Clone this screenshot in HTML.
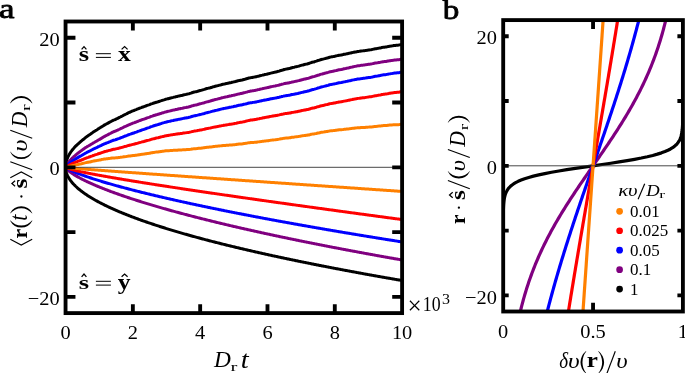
<!DOCTYPE html>
<html><head><meta charset="utf-8"><title>figure</title>
<style>
html,body{margin:0;padding:0;background:#fff;}
body{width:685px;height:373px;overflow:hidden;font-family:"Liberation Serif",serif;}
svg{display:block;will-change:transform;}
</style></head><body>
<svg width="685" height="373" viewBox="0 0 685 373">
<defs><clipPath id="cl"><rect x="65.55" y="21.50" width="336.55" height="291.60"/></clipPath><clipPath id="cr"><rect x="503.20" y="20.10" width="179.70" height="291.40"/></clipPath></defs>
<rect width="685" height="373" fill="#fff"/>
<g clip-path="url(#cl)" fill="none" stroke-width="3.0" stroke-linejoin="round" stroke-linecap="round">
<polyline points="65.55,167.30 65.76,164.24 65.97,162.98 66.18,162.00 66.39,161.19 66.60,160.46 66.81,159.81 67.02,159.21 67.23,158.65 67.44,158.13 67.65,157.64 67.86,157.16 68.07,156.71 68.28,156.27 68.49,155.85 68.71,155.45 68.92,155.06 69.13,154.70 69.34,154.32 69.55,153.97 69.76,153.63 69.97,153.29 70.18,152.95 70.39,152.63 70.60,152.32 70.81,152.01 71.02,151.70 71.23,151.40 71.44,151.11 71.65,150.83 71.86,150.53 72.07,150.23 72.28,149.97 72.49,149.71 72.70,149.45 72.91,149.21 73.12,148.96 73.33,148.72 73.54,148.45 73.75,148.20 73.96,147.98 74.81,147.04 75.65,146.16 76.49,145.34 77.33,144.54 78.17,143.76 79.01,143.02 79.85,142.28 80.69,141.61 81.54,140.91 82.38,140.19 83.22,139.49 84.06,138.78 84.90,138.09 85.74,137.39 86.58,136.79 87.43,136.13 88.27,135.58 89.11,135.00 89.95,134.48 90.79,133.85 91.63,133.22 92.47,132.66 93.32,132.03 94.16,131.50 95.00,130.96 95.84,130.42 96.68,129.94 97.52,129.40 98.36,128.79 99.20,128.33 100.05,127.78 100.89,127.29 101.73,126.70 102.57,126.19 103.41,125.66 104.25,125.15 105.09,124.65 105.94,124.25 106.78,123.72 107.62,123.33 108.46,122.86 109.30,122.37 110.14,121.97 110.98,121.51 111.83,121.01 112.67,120.57 113.51,120.18 114.35,119.89 115.19,119.51 116.03,119.11 116.87,118.71 117.72,118.32 118.56,117.87 119.40,117.46 120.24,117.03 121.08,116.56 121.92,116.18 122.76,115.76 123.60,115.23 124.45,114.76 125.29,114.41 126.13,114.01 126.97,113.57 127.81,113.11 128.65,112.71 129.49,112.35 130.34,112.00 131.18,111.60 132.02,111.22 132.86,110.90 133.70,110.57 134.54,110.25 135.38,109.88 136.23,109.59 137.07,109.23 137.91,108.86 138.75,108.52 139.59,108.24 140.43,107.85 141.27,107.56 142.12,107.22 142.96,106.94 143.80,106.72 144.64,106.39 145.48,106.07 146.32,105.76 147.16,105.44 148.00,105.17 148.85,104.91 149.69,104.62 150.53,104.22 151.37,103.88 152.21,103.62 153.05,103.30 153.89,103.04 154.74,102.77 155.58,102.44 156.42,102.19 157.26,102.00 158.10,101.77 158.94,101.49 159.78,101.21 160.63,100.88 161.47,100.66 162.31,100.36 163.15,100.08 163.99,99.84 164.83,99.56 165.67,99.30 166.51,99.12 167.36,98.84 168.20,98.68 169.04,98.46 169.88,98.23 170.72,97.98 171.56,97.80 172.40,97.59 173.25,97.38 174.09,97.13 174.93,96.97 175.77,96.77 176.61,96.60 177.45,96.47 178.29,96.14 179.14,95.95 179.98,95.84 180.82,95.57 181.66,95.43 182.50,95.21 183.34,94.96 184.18,94.79 185.03,94.60 185.87,94.42 186.71,94.20 187.55,94.07 188.39,93.90 189.23,93.68 190.07,93.39 190.91,93.11 191.76,92.78 192.60,92.50 193.44,92.27 194.28,92.03 195.12,91.89 195.96,91.69 196.80,91.50 197.65,91.24 198.49,90.96 199.33,90.74 200.17,90.52 201.01,90.36 201.85,90.12 202.69,89.87 203.54,89.61 204.38,89.41 205.22,89.08 206.06,88.79 206.90,88.57 207.74,88.37 208.58,88.16 209.43,87.93 210.27,87.71 211.11,87.46 211.95,87.21 212.79,86.93 213.63,86.67 214.47,86.47 215.31,86.25 216.16,86.07 217.00,85.90 217.84,85.60 218.68,85.43 219.52,85.13 220.36,84.96 221.20,84.76 222.05,84.52 222.89,84.32 223.73,84.11 224.57,83.93 225.41,83.77 226.25,83.59 227.09,83.43 227.94,83.16 228.78,82.99 229.62,82.72 230.46,82.67 231.30,82.49 232.14,82.28 232.98,82.12 233.82,81.89 234.67,81.67 235.51,81.51 236.35,81.31 237.19,80.98 238.03,80.79 238.87,80.59 239.71,80.44 240.56,80.25 241.40,80.15 242.24,79.98 243.08,79.68 243.92,79.45 244.76,79.25 245.60,79.02 246.45,78.76 247.29,78.56 248.13,78.28 248.97,78.06 249.81,77.88 250.65,77.63 251.49,77.58 252.34,77.44 253.18,77.26 254.02,77.13 254.86,76.97 255.70,76.83 256.54,76.69 257.38,76.37 258.22,76.17 259.07,75.99 259.91,75.75 260.75,75.58 261.59,75.35 262.43,75.15 263.27,74.89 264.11,74.78 264.96,74.55 265.80,74.36 266.64,74.22 267.48,73.98 268.32,73.83 269.16,73.55 270.00,73.33 270.85,73.10 271.69,72.90 272.53,72.65 273.37,72.54 274.21,72.34 275.05,72.17 275.89,71.95 276.74,71.75 277.58,71.51 278.42,71.34 279.26,71.04 280.10,70.71 280.94,70.50 281.78,70.29 282.62,70.06 283.47,69.78 284.31,69.47 285.15,69.32 285.99,69.14 286.83,68.98 287.67,68.82 288.51,68.68 289.36,68.44 290.20,68.28 291.04,67.98 291.88,67.71 292.72,67.54 293.56,67.38 294.40,67.19 295.25,66.90 296.09,66.73 296.93,66.58 297.77,66.36 298.61,66.11 299.45,65.92 300.29,65.62 301.13,65.38 301.98,65.13 302.82,64.94 303.66,64.71 304.50,64.48 305.34,64.35 306.18,64.10 307.02,63.94 307.87,63.70 308.71,63.52 309.55,63.16 310.39,62.88 311.23,62.58 312.07,62.28 312.91,62.09 313.76,61.95 314.60,61.71 315.44,61.40 316.28,61.13 317.12,60.83 317.96,60.52 318.80,60.34 319.65,60.07 320.49,59.71 321.33,59.48 322.17,59.34 323.01,59.10 323.85,58.88 324.69,58.62 325.53,58.43 326.38,58.19 327.22,58.07 328.06,57.80 328.90,57.50 329.74,57.21 330.58,57.08 331.42,56.85 332.27,56.81 333.11,56.60 333.95,56.41 334.79,56.27 335.63,56.06 336.47,55.87 337.31,55.64 338.16,55.45 339.00,55.26 339.84,55.19 340.68,55.07 341.52,54.92 342.36,54.73 343.20,54.56 344.05,54.31 344.89,54.19 345.73,54.03 346.57,53.84 347.41,53.68 348.25,53.48 349.09,53.34 349.93,53.10 350.78,52.96 351.62,52.74 352.46,52.58 353.30,52.34 354.14,52.25 354.98,52.06 355.82,51.92 356.67,51.75 357.51,51.53 358.35,51.44 359.19,51.36 360.03,51.26 360.87,51.09 361.71,51.04 362.56,50.88 363.40,50.80 364.24,50.71 365.08,50.58 365.92,50.41 366.76,50.30 367.60,50.17 368.45,50.02 369.29,49.88 370.13,49.86 370.97,49.73 371.81,49.58 372.65,49.38 373.49,49.12 374.33,48.94 375.18,48.79 376.02,48.70 376.86,48.55 377.70,48.37 378.54,48.17 379.38,48.07 380.22,47.92 381.07,47.74 381.91,47.51 382.75,47.36 383.59,47.25 384.43,47.16 385.27,47.04 386.11,46.95 386.96,46.78 387.80,46.59 388.64,46.43 389.48,46.25 390.32,46.14 391.16,46.00 392.00,45.89 392.84,45.75 393.69,45.56 394.53,45.44 395.37,45.41 396.21,45.29 397.05,45.20 397.89,45.15 398.73,45.06 399.58,44.87 400.42,44.65 401.26,44.55 402.10,44.36" stroke="#000000"/>
<polyline points="65.55,167.30 65.76,169.93 65.97,171.04 66.18,171.90 66.39,172.63 66.60,173.28 66.81,173.86 67.02,174.39 67.23,174.89 67.44,175.36 67.65,175.81 67.86,176.23 68.07,176.64 68.28,177.03 68.49,177.40 68.71,177.76 68.92,178.11 69.13,178.45 69.34,178.78 69.55,179.10 69.76,179.42 69.97,179.72 70.18,180.02 70.39,180.31 70.60,180.60 70.81,180.88 71.02,181.15 71.23,181.42 71.44,181.69 71.65,181.95 71.86,182.20 72.07,182.45 72.28,182.70 72.49,182.94 72.70,183.18 72.91,183.42 73.12,183.65 73.33,183.88 73.54,184.11 73.75,184.33 73.96,184.56 74.81,185.41 75.65,186.24 76.49,187.03 77.33,187.79 78.17,188.52 79.01,189.23 79.85,189.92 80.69,190.59 81.54,191.24 82.38,191.87 83.22,192.49 84.06,193.10 84.90,193.69 85.74,194.27 86.58,194.83 87.43,195.39 88.27,195.94 89.11,196.47 89.95,197.00 90.79,197.52 91.63,198.03 92.47,198.53 93.32,199.02 94.16,199.51 95.00,199.99 95.84,200.46 96.68,200.93 97.52,201.39 98.36,201.84 99.20,202.29 100.05,202.74 100.89,203.17 101.73,203.61 102.57,204.03 103.41,204.46 104.25,204.88 105.09,205.29 105.94,205.70 106.78,206.11 107.62,206.51 108.46,206.91 109.30,207.30 110.14,207.69 110.98,208.08 111.83,208.46 112.67,208.84 113.51,209.22 114.35,209.59 115.19,209.96 116.03,210.33 116.87,210.69 117.72,211.06 118.56,211.41 119.40,211.77 120.24,212.12 121.08,212.47 121.92,212.82 122.76,213.17 123.60,213.51 124.45,213.85 125.29,214.19 126.13,214.52 126.97,214.86 127.81,215.19 128.65,215.52 129.49,215.84 130.34,216.17 131.18,216.49 132.02,216.81 132.86,217.13 133.70,217.45 134.54,217.76 135.38,218.07 136.23,218.39 137.07,218.70 137.91,219.00 138.75,219.31 139.59,219.61 140.43,219.91 141.27,220.22 142.12,220.51 142.96,220.81 143.80,221.11 144.64,221.40 145.48,221.69 146.32,221.99 147.16,222.28 148.00,222.56 148.85,222.85 149.69,223.14 150.53,223.42 151.37,223.70 152.21,223.98 153.05,224.26 153.89,224.54 154.74,224.82 155.58,225.10 156.42,225.37 157.26,225.65 158.10,225.92 158.94,226.19 159.78,226.46 160.63,226.73 161.47,227.00 162.31,227.26 163.15,227.53 163.99,227.79 164.83,228.05 165.67,228.32 166.51,228.58 167.36,228.84 168.20,229.10 169.04,229.35 169.88,229.61 170.72,229.87 171.56,230.12 172.40,230.38 173.25,230.63 174.09,230.88 174.93,231.13 175.77,231.38 176.61,231.63 177.45,231.88 178.29,232.12 179.14,232.37 179.98,232.62 180.82,232.86 181.66,233.10 182.50,233.35 183.34,233.59 184.18,233.83 185.03,234.07 185.87,234.31 186.71,234.55 187.55,234.79 188.39,235.02 189.23,235.26 190.07,235.49 190.91,235.73 191.76,235.96 192.60,236.20 193.44,236.43 194.28,236.66 195.12,236.89 195.96,237.12 196.80,237.35 197.65,237.58 198.49,237.81 199.33,238.03 200.17,238.26 201.01,238.49 201.85,238.71 202.69,238.94 203.54,239.16 204.38,239.38 205.22,239.61 206.06,239.83 206.90,240.05 207.74,240.27 208.58,240.49 209.43,240.71 210.27,240.93 211.11,241.15 211.95,241.36 212.79,241.58 213.63,241.80 214.47,242.01 215.31,242.23 216.16,242.44 217.00,242.65 217.84,242.87 218.68,243.08 219.52,243.29 220.36,243.50 221.20,243.71 222.05,243.92 222.89,244.13 223.73,244.34 224.57,244.55 225.41,244.76 226.25,244.97 227.09,245.18 227.94,245.38 228.78,245.59 229.62,245.79 230.46,246.00 231.30,246.20 232.14,246.41 232.98,246.61 233.82,246.81 234.67,247.02 235.51,247.22 236.35,247.42 237.19,247.62 238.03,247.82 238.87,248.02 239.71,248.22 240.56,248.42 241.40,248.62 242.24,248.82 243.08,249.02 243.92,249.21 244.76,249.41 245.60,249.61 246.45,249.80 247.29,250.00 248.13,250.19 248.97,250.39 249.81,250.58 250.65,250.77 251.49,250.97 252.34,251.16 253.18,251.35 254.02,251.55 254.86,251.74 255.70,251.93 256.54,252.12 257.38,252.31 258.22,252.50 259.07,252.69 259.91,252.88 260.75,253.07 261.59,253.25 262.43,253.44 263.27,253.63 264.11,253.82 264.96,254.00 265.80,254.19 266.64,254.38 267.48,254.56 268.32,254.75 269.16,254.93 270.00,255.12 270.85,255.30 271.69,255.48 272.53,255.67 273.37,255.85 274.21,256.03 275.05,256.22 275.89,256.40 276.74,256.58 277.58,256.76 278.42,256.94 279.26,257.12 280.10,257.30 280.94,257.48 281.78,257.66 282.62,257.84 283.47,258.02 284.31,258.20 285.15,258.38 285.99,258.55 286.83,258.73 287.67,258.91 288.51,259.09 289.36,259.26 290.20,259.44 291.04,259.61 291.88,259.79 292.72,259.96 293.56,260.14 294.40,260.31 295.25,260.49 296.09,260.66 296.93,260.84 297.77,261.01 298.61,261.18 299.45,261.35 300.29,261.53 301.13,261.70 301.98,261.87 302.82,262.04 303.66,262.21 304.50,262.38 305.34,262.56 306.18,262.73 307.02,262.90 307.87,263.07 308.71,263.23 309.55,263.40 310.39,263.57 311.23,263.74 312.07,263.91 312.91,264.08 313.76,264.25 314.60,264.41 315.44,264.58 316.28,264.75 317.12,264.91 317.96,265.08 318.80,265.25 319.65,265.41 320.49,265.58 321.33,265.74 322.17,265.91 323.01,266.07 323.85,266.24 324.69,266.40 325.53,266.57 326.38,266.73 327.22,266.89 328.06,267.06 328.90,267.22 329.74,267.38 330.58,267.54 331.42,267.71 332.27,267.87 333.11,268.03 333.95,268.19 334.79,268.35 335.63,268.51 336.47,268.67 337.31,268.83 338.16,268.99 339.00,269.15 339.84,269.31 340.68,269.47 341.52,269.63 342.36,269.79 343.20,269.95 344.05,270.11 344.89,270.27 345.73,270.43 346.57,270.58 347.41,270.74 348.25,270.90 349.09,271.06 349.93,271.21 350.78,271.37 351.62,271.53 352.46,271.68 353.30,271.84 354.14,271.99 354.98,272.15 355.82,272.30 356.67,272.46 357.51,272.61 358.35,272.77 359.19,272.92 360.03,273.08 360.87,273.23 361.71,273.39 362.56,273.54 363.40,273.69 364.24,273.85 365.08,274.00 365.92,274.15 366.76,274.30 367.60,274.46 368.45,274.61 369.29,274.76 370.13,274.91 370.97,275.06 371.81,275.21 372.65,275.37 373.49,275.52 374.33,275.67 375.18,275.82 376.02,275.97 376.86,276.12 377.70,276.27 378.54,276.42 379.38,276.57 380.22,276.72 381.07,276.87 381.91,277.01 382.75,277.16 383.59,277.31 384.43,277.46 385.27,277.61 386.11,277.76 386.96,277.90 387.80,278.05 388.64,278.20 389.48,278.35 390.32,278.49 391.16,278.64 392.00,278.79 392.84,278.93 393.69,279.08 394.53,279.23 395.37,279.37 396.21,279.52 397.05,279.66 397.89,279.81 398.73,279.95 399.58,280.10 400.42,280.24 401.26,280.39 402.10,280.53" stroke="#000000"/>
<polyline points="65.55,167.30 65.76,166.47 65.97,165.96 66.18,165.53 66.39,165.13 66.60,164.77 66.81,164.43 67.02,164.10 67.23,163.79 67.44,163.49 67.65,163.20 67.86,162.92 68.07,162.64 68.28,162.36 68.49,162.10 68.71,161.85 68.92,161.60 69.13,161.36 69.34,161.11 69.55,160.88 69.76,160.65 69.97,160.42 70.18,160.18 70.39,159.95 70.60,159.74 70.81,159.52 71.02,159.30 71.23,159.08 71.44,158.88 71.65,158.67 71.86,158.45 72.07,158.22 72.28,158.03 72.49,157.83 72.70,157.64 72.91,157.47 73.12,157.28 73.33,157.09 73.54,156.89 73.75,156.69 73.96,156.52 74.81,155.77 75.65,155.04 76.49,154.36 77.33,153.68 78.17,153.01 79.01,152.37 79.85,151.72 80.69,151.14 81.54,150.54 82.38,149.91 83.22,149.30 84.06,148.69 84.90,148.10 85.74,147.50 86.58,146.99 87.43,146.43 88.27,145.97 89.11,145.47 89.95,145.04 90.79,144.50 91.63,143.95 92.47,143.47 93.32,142.90 94.16,142.45 95.00,141.97 95.84,141.49 96.68,141.07 97.52,140.58 98.36,140.02 99.20,139.61 100.05,139.10 100.89,138.64 101.73,138.08 102.57,137.59 103.41,137.08 104.25,136.59 105.09,136.11 105.94,135.73 106.78,135.20 107.62,134.83 108.46,134.37 109.30,133.90 110.14,133.51 110.98,133.06 111.83,132.58 112.67,132.15 113.51,131.78 114.35,131.51 115.19,131.15 116.03,130.77 116.87,130.40 117.72,130.04 118.56,129.62 119.40,129.25 120.24,128.85 121.08,128.42 121.92,128.07 122.76,127.69 123.60,127.20 124.45,126.77 125.29,126.46 126.13,126.09 126.97,125.69 127.81,125.26 128.65,124.89 129.49,124.56 130.34,124.25 131.18,123.87 132.02,123.51 132.86,123.21 133.70,122.90 134.54,122.60 135.38,122.25 136.23,121.97 137.07,121.63 137.91,121.27 138.75,120.93 139.59,120.66 140.43,120.28 141.27,120.00 142.12,119.67 142.96,119.39 143.80,119.18 144.64,118.86 145.48,118.54 146.32,118.24 147.16,117.92 148.00,117.66 148.85,117.40 149.69,117.11 150.53,116.72 151.37,116.39 152.21,116.13 153.05,115.81 153.89,115.56 154.74,115.30 155.58,114.98 156.42,114.73 157.26,114.54 158.10,114.32 158.94,114.04 159.78,113.77 160.63,113.45 161.47,113.23 162.31,112.95 163.15,112.68 163.99,112.45 164.83,112.17 165.67,111.93 166.51,111.76 167.36,111.49 168.20,111.35 169.04,111.13 169.88,110.92 170.72,110.69 171.56,110.52 172.40,110.33 173.25,110.14 174.09,109.90 174.93,109.76 175.77,109.59 176.61,109.43 177.45,109.32 178.29,109.01 179.14,108.84 179.98,108.75 180.82,108.50 181.66,108.38 182.50,108.18 183.34,107.95 184.18,107.80 185.03,107.63 185.87,107.46 186.71,107.27 187.55,107.15 188.39,107.00 189.23,106.80 190.07,106.52 190.91,106.26 191.76,105.94 192.60,105.68 193.44,105.47 194.28,105.24 195.12,105.11 195.96,104.93 196.80,104.75 197.65,104.50 198.49,104.22 199.33,104.02 200.17,103.81 201.01,103.65 201.85,103.42 202.69,103.17 203.54,102.92 204.38,102.72 205.22,102.39 206.06,102.10 206.90,101.88 207.74,101.68 208.58,101.48 209.43,101.24 210.27,101.02 211.11,100.78 211.95,100.52 212.79,100.24 213.63,99.97 214.47,99.77 215.31,99.55 216.16,99.37 217.00,99.19 217.84,98.90 218.68,98.72 219.52,98.42 220.36,98.25 221.20,98.04 222.05,97.79 222.89,97.60 223.73,97.39 224.57,97.21 225.41,97.04 226.25,96.86 227.09,96.70 227.94,96.43 228.78,96.26 229.62,95.99 230.46,95.95 231.30,95.77 232.14,95.56 232.98,95.40 233.82,95.17 234.67,94.96 235.51,94.80 236.35,94.60 237.19,94.28 238.03,94.09 238.87,93.90 239.71,93.75 240.56,93.57 241.40,93.47 242.24,93.31 243.08,93.01 243.92,92.79 244.76,92.60 245.60,92.37 246.45,92.12 247.29,91.92 248.13,91.65 248.97,91.44 249.81,91.26 250.65,91.01 251.49,90.97 252.34,90.84 253.18,90.67 254.02,90.56 254.86,90.40 255.70,90.27 256.54,90.14 257.38,89.83 258.22,89.63 259.07,89.47 259.91,89.24 260.75,89.08 261.59,88.87 262.43,88.68 263.27,88.43 264.11,88.33 264.96,88.12 265.80,87.93 266.64,87.82 267.48,87.59 268.32,87.45 269.16,87.19 270.00,86.99 270.85,86.78 271.69,86.60 272.53,86.37 273.37,86.29 274.21,86.11 275.05,85.97 275.89,85.78 276.74,85.60 277.58,85.39 278.42,85.25 279.26,84.98 280.10,84.67 280.94,84.50 281.78,84.31 282.62,84.11 283.47,83.86 284.31,83.58 285.15,83.46 285.99,83.31 286.83,83.17 287.67,83.04 288.51,82.94 289.36,82.73 290.20,82.59 291.04,82.32 291.88,82.07 292.72,81.93 293.56,81.79 294.40,81.63 295.25,81.36 296.09,81.20 296.93,81.08 297.77,80.87 298.61,80.65 299.45,80.47 300.29,80.18 301.13,79.96 301.98,79.72 302.82,79.54 303.66,79.32 304.50,79.10 305.34,78.99 306.18,78.74 307.02,78.59 307.87,78.35 308.71,78.18 309.55,77.82 310.39,77.55 311.23,77.25 312.07,76.95 312.91,76.76 313.76,76.62 314.60,76.38 315.44,76.07 316.28,75.80 317.12,75.50 317.96,75.19 318.80,75.00 319.65,74.73 320.49,74.37 321.33,74.14 322.17,73.99 323.01,73.75 323.85,73.52 324.69,73.26 325.53,73.06 326.38,72.82 327.22,72.70 328.06,72.42 328.90,72.11 329.74,71.82 330.58,71.68 331.42,71.45 332.27,71.40 333.11,71.19 333.95,70.99 334.79,70.85 335.63,70.64 336.47,70.44 337.31,70.20 338.16,70.01 339.00,69.81 339.84,69.72 340.68,69.60 341.52,69.44 342.36,69.24 343.20,69.05 344.05,68.79 344.89,68.65 345.73,68.48 346.57,68.29 347.41,68.11 348.25,67.90 349.09,67.75 349.93,67.50 350.78,67.34 351.62,67.11 352.46,66.94 353.30,66.69 354.14,66.58 354.98,66.38 355.82,66.24 356.67,66.06 357.51,65.83 358.35,65.73 359.19,65.64 360.03,65.53 360.87,65.36 361.71,65.30 362.56,65.14 363.40,65.06 364.24,64.96 365.08,64.83 365.92,64.66 366.76,64.55 367.60,64.42 368.45,64.28 369.29,64.14 370.13,64.13 370.97,64.00 371.81,63.86 372.65,63.66 373.49,63.42 374.33,63.24 375.18,63.10 376.02,63.02 376.86,62.88 377.70,62.71 378.54,62.52 379.38,62.43 380.22,62.30 381.07,62.13 381.91,61.90 382.75,61.77 383.59,61.68 384.43,61.59 385.27,61.49 386.11,61.41 386.96,61.25 387.80,61.08 388.64,60.94 389.48,60.76 390.32,60.67 391.16,60.54 392.00,60.44 392.84,60.33 393.69,60.15 394.53,60.04 395.37,60.02 396.21,59.91 397.05,59.84 397.89,59.80 398.73,59.72 399.58,59.55 400.42,59.34 401.26,59.25 402.10,59.07" stroke="#800080"/>
<polyline points="65.55,167.30 65.76,167.78 65.97,168.10 66.18,168.39 66.39,168.65 66.60,168.89 66.81,169.12 67.02,169.34 67.23,169.55 67.44,169.76 67.65,169.95 67.86,170.15 68.07,170.33 68.28,170.52 68.49,170.70 68.71,170.87 68.92,171.05 69.13,171.22 69.34,171.39 69.55,171.55 69.76,171.71 69.97,171.87 70.18,172.03 70.39,172.19 70.60,172.34 70.81,172.49 71.02,172.64 71.23,172.79 71.44,172.94 71.65,173.08 71.86,173.23 72.07,173.37 72.28,173.51 72.49,173.65 72.70,173.79 72.91,173.93 73.12,174.07 73.33,174.20 73.54,174.34 73.75,174.47 73.96,174.60 74.81,175.12 75.65,175.63 76.49,176.13 77.33,176.61 78.17,177.08 79.01,177.55 79.85,178.00 80.69,178.45 81.54,178.89 82.38,179.32 83.22,179.75 84.06,180.17 84.90,180.58 85.74,180.99 86.58,181.39 87.43,181.79 88.27,182.18 89.11,182.57 89.95,182.96 90.79,183.34 91.63,183.71 92.47,184.09 93.32,184.46 94.16,184.82 95.00,185.18 95.84,185.54 96.68,185.90 97.52,186.25 98.36,186.60 99.20,186.95 100.05,187.29 100.89,187.63 101.73,187.97 102.57,188.31 103.41,188.64 104.25,188.97 105.09,189.30 105.94,189.63 106.78,189.95 107.62,190.27 108.46,190.59 109.30,190.91 110.14,191.23 110.98,191.54 111.83,191.85 112.67,192.16 113.51,192.47 114.35,192.78 115.19,193.08 116.03,193.38 116.87,193.69 117.72,193.99 118.56,194.28 119.40,194.58 120.24,194.87 121.08,195.17 121.92,195.46 122.76,195.75 123.60,196.04 124.45,196.33 125.29,196.61 126.13,196.90 126.97,197.18 127.81,197.46 128.65,197.74 129.49,198.02 130.34,198.30 131.18,198.58 132.02,198.85 132.86,199.13 133.70,199.40 134.54,199.67 135.38,199.94 136.23,200.21 137.07,200.48 137.91,200.75 138.75,201.02 139.59,201.28 140.43,201.55 141.27,201.81 142.12,202.07 142.96,202.33 143.80,202.59 144.64,202.85 145.48,203.11 146.32,203.37 147.16,203.63 148.00,203.88 148.85,204.14 149.69,204.39 150.53,204.64 151.37,204.89 152.21,205.14 153.05,205.40 153.89,205.64 154.74,205.89 155.58,206.14 156.42,206.39 157.26,206.63 158.10,206.88 158.94,207.12 159.78,207.37 160.63,207.61 161.47,207.85 162.31,208.09 163.15,208.33 163.99,208.57 164.83,208.81 165.67,209.05 166.51,209.29 167.36,209.52 168.20,209.76 169.04,210.00 169.88,210.23 170.72,210.46 171.56,210.70 172.40,210.93 173.25,211.16 174.09,211.39 174.93,211.62 175.77,211.85 176.61,212.08 177.45,212.31 178.29,212.54 179.14,212.77 179.98,212.99 180.82,213.22 181.66,213.45 182.50,213.67 183.34,213.90 184.18,214.12 185.03,214.34 185.87,214.57 186.71,214.79 187.55,215.01 188.39,215.23 189.23,215.45 190.07,215.67 190.91,215.89 191.76,216.11 192.60,216.33 193.44,216.54 194.28,216.76 195.12,216.98 195.96,217.19 196.80,217.41 197.65,217.62 198.49,217.84 199.33,218.05 200.17,218.27 201.01,218.48 201.85,218.69 202.69,218.90 203.54,219.12 204.38,219.33 205.22,219.54 206.06,219.75 206.90,219.96 207.74,220.16 208.58,220.37 209.43,220.58 210.27,220.79 211.11,221.00 211.95,221.20 212.79,221.41 213.63,221.62 214.47,221.82 215.31,222.03 216.16,222.23 217.00,222.43 217.84,222.64 218.68,222.84 219.52,223.04 220.36,223.25 221.20,223.45 222.05,223.65 222.89,223.85 223.73,224.05 224.57,224.25 225.41,224.45 226.25,224.65 227.09,224.85 227.94,225.05 228.78,225.25 229.62,225.44 230.46,225.64 231.30,225.84 232.14,226.04 232.98,226.23 233.82,226.43 234.67,226.62 235.51,226.82 236.35,227.01 237.19,227.21 238.03,227.40 238.87,227.59 239.71,227.79 240.56,227.98 241.40,228.17 242.24,228.37 243.08,228.56 243.92,228.75 244.76,228.94 245.60,229.13 246.45,229.32 247.29,229.51 248.13,229.70 248.97,229.89 249.81,230.08 250.65,230.27 251.49,230.46 252.34,230.64 253.18,230.83 254.02,231.02 254.86,231.21 255.70,231.39 256.54,231.58 257.38,231.76 258.22,231.95 259.07,232.14 259.91,232.32 260.75,232.50 261.59,232.69 262.43,232.87 263.27,233.06 264.11,233.24 264.96,233.42 265.80,233.61 266.64,233.79 267.48,233.97 268.32,234.15 269.16,234.33 270.00,234.52 270.85,234.70 271.69,234.88 272.53,235.06 273.37,235.24 274.21,235.42 275.05,235.60 275.89,235.78 276.74,235.95 277.58,236.13 278.42,236.31 279.26,236.49 280.10,236.67 280.94,236.85 281.78,237.02 282.62,237.20 283.47,237.38 284.31,237.55 285.15,237.73 285.99,237.90 286.83,238.08 287.67,238.25 288.51,238.43 289.36,238.60 290.20,238.78 291.04,238.95 291.88,239.13 292.72,239.30 293.56,239.47 294.40,239.65 295.25,239.82 296.09,239.99 296.93,240.16 297.77,240.34 298.61,240.51 299.45,240.68 300.29,240.85 301.13,241.02 301.98,241.19 302.82,241.36 303.66,241.53 304.50,241.70 305.34,241.87 306.18,242.04 307.02,242.21 307.87,242.38 308.71,242.55 309.55,242.72 310.39,242.89 311.23,243.06 312.07,243.22 312.91,243.39 313.76,243.56 314.60,243.73 315.44,243.89 316.28,244.06 317.12,244.23 317.96,244.39 318.80,244.56 319.65,244.72 320.49,244.89 321.33,245.05 322.17,245.22 323.01,245.38 323.85,245.55 324.69,245.71 325.53,245.88 326.38,246.04 327.22,246.21 328.06,246.37 328.90,246.53 329.74,246.70 330.58,246.86 331.42,247.02 332.27,247.18 333.11,247.35 333.95,247.51 334.79,247.67 335.63,247.83 336.47,247.99 337.31,248.15 338.16,248.31 339.00,248.47 339.84,248.63 340.68,248.80 341.52,248.96 342.36,249.12 343.20,249.27 344.05,249.43 344.89,249.59 345.73,249.75 346.57,249.91 347.41,250.07 348.25,250.23 349.09,250.39 349.93,250.54 350.78,250.70 351.62,250.86 352.46,251.02 353.30,251.17 354.14,251.33 354.98,251.49 355.82,251.64 356.67,251.80 357.51,251.96 358.35,252.11 359.19,252.27 360.03,252.43 360.87,252.58 361.71,252.74 362.56,252.89 363.40,253.05 364.24,253.20 365.08,253.36 365.92,253.51 366.76,253.66 367.60,253.82 368.45,253.97 369.29,254.12 370.13,254.28 370.97,254.43 371.81,254.58 372.65,254.74 373.49,254.89 374.33,255.04 375.18,255.19 376.02,255.35 376.86,255.50 377.70,255.65 378.54,255.80 379.38,255.95 380.22,256.11 381.07,256.26 381.91,256.41 382.75,256.56 383.59,256.71 384.43,256.86 385.27,257.01 386.11,257.16 386.96,257.31 387.80,257.46 388.64,257.61 389.48,257.76 390.32,257.91 391.16,258.06 392.00,258.20 392.84,258.35 393.69,258.50 394.53,258.65 395.37,258.80 396.21,258.95 397.05,259.09 397.89,259.24 398.73,259.39 399.58,259.54 400.42,259.68 401.26,259.83 402.10,259.98" stroke="#800080"/>
<polyline points="65.55,167.30 65.76,166.87 65.97,166.57 66.18,166.30 66.39,166.06 66.60,165.83 66.81,165.60 67.02,165.39 67.23,165.19 67.44,164.99 67.65,164.79 67.86,164.60 68.07,164.41 68.28,164.22 68.49,164.04 68.71,163.86 68.92,163.69 69.13,163.52 69.34,163.34 69.55,163.18 69.76,163.02 69.97,162.86 70.18,162.68 70.39,162.52 70.60,162.37 70.81,162.21 71.02,162.05 71.23,161.89 71.44,161.74 71.65,161.59 71.86,161.43 72.07,161.26 72.28,161.12 72.49,160.97 72.70,160.83 72.91,160.71 73.12,160.57 73.33,160.44 73.54,160.28 73.75,160.14 73.96,160.01 74.81,159.45 75.65,158.90 76.49,158.40 77.33,157.88 78.17,157.37 79.01,156.88 79.85,156.38 80.69,155.94 81.54,155.47 82.38,154.97 83.22,154.47 84.06,153.97 84.90,153.47 85.74,152.97 86.58,152.54 87.43,152.07 88.27,151.69 89.11,151.27 89.95,150.91 90.79,150.45 91.63,149.97 92.47,149.56 93.32,149.08 94.16,148.70 95.00,148.29 95.84,147.89 96.68,147.55 97.52,147.15 98.36,146.67 99.20,146.35 100.05,145.93 100.89,145.56 101.73,145.11 102.57,144.72 103.41,144.32 104.25,143.93 105.09,143.56 105.94,143.29 106.78,142.87 107.62,142.61 108.46,142.26 109.30,141.89 110.14,141.60 110.98,141.26 111.83,140.87 112.67,140.54 113.51,140.26 114.35,140.09 115.19,139.82 116.03,139.52 116.87,139.23 117.72,138.95 118.56,138.61 119.40,138.32 120.24,138.00 121.08,137.65 121.92,137.37 122.76,137.07 123.60,136.64 124.45,136.28 125.29,136.04 126.13,135.73 126.97,135.39 127.81,135.02 128.65,134.71 129.49,134.43 130.34,134.17 131.18,133.83 132.02,133.52 132.86,133.26 133.70,132.98 134.54,132.71 135.38,132.38 136.23,132.12 137.07,131.80 137.91,131.46 138.75,131.14 139.59,130.88 140.43,130.51 141.27,130.24 142.12,129.91 142.96,129.65 143.80,129.43 144.64,129.12 145.48,128.80 146.32,128.49 147.16,128.18 148.00,127.91 148.85,127.65 149.69,127.36 150.53,126.97 151.37,126.63 152.21,126.37 153.05,126.05 153.89,125.79 154.74,125.53 155.58,125.20 156.42,124.95 157.26,124.76 158.10,124.53 158.94,124.26 159.78,123.99 160.63,123.66 161.47,123.45 162.31,123.16 163.15,122.90 163.99,122.67 164.83,122.40 165.67,122.16 166.51,122.00 167.36,121.74 168.20,121.60 169.04,121.39 169.88,121.19 170.72,120.97 171.56,120.81 172.40,120.62 173.25,120.45 174.09,120.22 174.93,120.09 175.77,119.92 176.61,119.77 177.45,119.68 178.29,119.38 179.14,119.22 179.98,119.14 180.82,118.90 181.66,118.79 182.50,118.60 183.34,118.39 184.18,118.25 185.03,118.09 185.87,117.93 186.71,117.75 187.55,117.65 188.39,117.51 189.23,117.32 190.07,117.06 190.91,116.81 191.76,116.50 192.60,116.25 193.44,116.06 194.28,115.84 195.12,115.73 195.96,115.55 196.80,115.38 197.65,115.15 198.49,114.89 199.33,114.70 200.17,114.50 201.01,114.36 201.85,114.14 202.69,113.91 203.54,113.66 204.38,113.49 205.22,113.17 206.06,112.89 206.90,112.69 207.74,112.51 208.58,112.32 209.43,112.10 210.27,111.89 211.11,111.66 211.95,111.42 212.79,111.16 213.63,110.91 214.47,110.73 215.31,110.52 216.16,110.35 217.00,110.20 217.84,109.92 218.68,109.76 219.52,109.48 220.36,109.32 221.20,109.13 222.05,108.90 222.89,108.72 223.73,108.53 224.57,108.36 225.41,108.21 226.25,108.05 227.09,107.91 227.94,107.66 228.78,107.50 229.62,107.25 230.46,107.22 231.30,107.06 232.14,106.87 232.98,106.72 233.82,106.51 234.67,106.32 235.51,106.17 236.35,105.99 237.19,105.69 238.03,105.52 238.87,105.34 239.71,105.20 240.56,105.04 241.40,104.95 242.24,104.81 243.08,104.53 243.92,104.33 244.76,104.15 245.60,103.94 246.45,103.70 247.29,103.52 248.13,103.27 248.97,103.07 249.81,102.91 250.65,102.68 251.49,102.65 252.34,102.54 253.18,102.38 254.02,102.28 254.86,102.15 255.70,102.03 256.54,101.92 257.38,101.63 258.22,101.44 259.07,101.30 259.91,101.08 260.75,100.94 261.59,100.74 262.43,100.57 263.27,100.33 264.11,100.25 264.96,100.06 265.80,99.89 266.64,99.79 267.48,99.58 268.32,99.46 269.16,99.22 270.00,99.03 270.85,98.83 271.69,98.67 272.53,98.46 273.37,98.40 274.21,98.24 275.05,98.11 275.89,97.93 276.74,97.78 277.58,97.58 278.42,97.46 279.26,97.20 280.10,96.91 280.94,96.76 281.78,96.59 282.62,96.41 283.47,96.17 284.31,95.91 285.15,95.81 285.99,95.67 286.83,95.56 287.67,95.44 288.51,95.35 289.36,95.16 290.20,95.04 291.04,94.78 291.88,94.55 292.72,94.42 293.56,94.30 294.40,94.15 295.25,93.90 296.09,93.76 296.93,93.65 297.77,93.46 298.61,93.24 299.45,93.08 300.29,92.80 301.13,92.60 301.98,92.37 302.82,92.20 303.66,91.99 304.50,91.78 305.34,91.68 306.18,91.44 307.02,91.30 307.87,91.07 308.71,90.91 309.55,90.56 310.39,90.30 311.23,90.01 312.07,89.71 312.91,89.53 313.76,89.40 314.60,89.17 315.44,88.87 316.28,88.61 317.12,88.32 317.96,88.01 318.80,87.83 319.65,87.56 320.49,87.21 321.33,86.99 322.17,86.85 323.01,86.61 323.85,86.39 324.69,86.13 325.53,85.94 326.38,85.71 327.22,85.59 328.06,85.32 328.90,85.02 329.74,84.73 330.58,84.60 331.42,84.38 332.27,84.34 333.11,84.13 333.95,83.94 334.79,83.81 335.63,83.61 336.47,83.42 337.31,83.19 338.16,83.00 339.00,82.81 339.84,82.74 340.68,82.63 341.52,82.48 342.36,82.29 343.20,82.12 344.05,81.87 344.89,81.74 345.73,81.58 346.57,81.39 347.41,81.23 348.25,81.03 349.09,80.89 349.93,80.65 350.78,80.50 351.62,80.28 352.46,80.12 353.30,79.88 354.14,79.79 354.98,79.60 355.82,79.46 356.67,79.29 357.51,79.07 358.35,78.98 359.19,78.89 360.03,78.79 360.87,78.63 361.71,78.57 362.56,78.42 363.40,78.33 364.24,78.24 365.08,78.12 365.92,77.95 366.76,77.83 367.60,77.71 368.45,77.56 369.29,77.42 370.13,77.41 370.97,77.28 371.81,77.13 372.65,76.93 373.49,76.68 374.33,76.50 375.18,76.35 376.02,76.26 376.86,76.12 377.70,75.94 378.54,75.74 379.38,75.65 380.22,75.50 381.07,75.33 381.91,75.10 382.75,74.95 383.59,74.85 384.43,74.76 385.27,74.65 386.11,74.55 386.96,74.39 387.80,74.21 388.64,74.05 389.48,73.87 390.32,73.77 391.16,73.62 392.00,73.52 392.84,73.39 393.69,73.20 394.53,73.08 395.37,73.05 396.21,72.94 397.05,72.85 397.89,72.80 398.73,72.72 399.58,72.54 400.42,72.32 401.26,72.21 402.10,72.03" stroke="#0000ff"/>
<polyline points="65.55,167.30 65.76,167.52 65.97,167.70 66.18,167.85 66.39,168.00 66.60,168.14 66.81,168.27 67.02,168.40 67.23,168.53 67.44,168.65 67.65,168.78 67.86,168.89 68.07,169.01 68.28,169.12 68.49,169.24 68.71,169.35 68.92,169.46 69.13,169.57 69.34,169.67 69.55,169.78 69.76,169.88 69.97,169.99 70.18,170.09 70.39,170.19 70.60,170.29 70.81,170.39 71.02,170.49 71.23,170.59 71.44,170.68 71.65,170.78 71.86,170.87 72.07,170.97 72.28,171.06 72.49,171.16 72.70,171.25 72.91,171.34 73.12,171.43 73.33,171.53 73.54,171.62 73.75,171.71 73.96,171.80 74.81,172.15 75.65,172.50 76.49,172.84 77.33,173.17 78.17,173.50 79.01,173.83 79.85,174.15 80.69,174.46 81.54,174.78 82.38,175.08 83.22,175.39 84.06,175.69 84.90,175.99 85.74,176.28 86.58,176.57 87.43,176.86 88.27,177.15 89.11,177.43 89.95,177.71 90.79,177.99 91.63,178.27 92.47,178.55 93.32,178.82 94.16,179.09 95.00,179.36 95.84,179.62 96.68,179.89 97.52,180.15 98.36,180.41 99.20,180.67 100.05,180.93 100.89,181.19 101.73,181.45 102.57,181.70 103.41,181.95 104.25,182.20 105.09,182.45 105.94,182.70 106.78,182.95 107.62,183.19 108.46,183.44 109.30,183.68 110.14,183.92 110.98,184.16 111.83,184.40 112.67,184.64 113.51,184.88 114.35,185.11 115.19,185.35 116.03,185.58 116.87,185.82 117.72,186.05 118.56,186.28 119.40,186.51 120.24,186.74 121.08,186.97 121.92,187.20 122.76,187.42 123.60,187.65 124.45,187.87 125.29,188.10 126.13,188.32 126.97,188.54 127.81,188.76 128.65,188.98 129.49,189.20 130.34,189.42 131.18,189.64 132.02,189.86 132.86,190.08 133.70,190.29 134.54,190.51 135.38,190.72 136.23,190.94 137.07,191.15 137.91,191.36 138.75,191.57 139.59,191.79 140.43,192.00 141.27,192.21 142.12,192.42 142.96,192.62 143.80,192.83 144.64,193.04 145.48,193.25 146.32,193.45 147.16,193.66 148.00,193.86 148.85,194.07 149.69,194.27 150.53,194.48 151.37,194.68 152.21,194.88 153.05,195.08 153.89,195.28 154.74,195.48 155.58,195.68 156.42,195.88 157.26,196.08 158.10,196.28 158.94,196.48 159.78,196.68 160.63,196.87 161.47,197.07 162.31,197.27 163.15,197.46 163.99,197.66 164.83,197.85 165.67,198.05 166.51,198.24 167.36,198.43 168.20,198.63 169.04,198.82 169.88,199.01 170.72,199.20 171.56,199.39 172.40,199.58 173.25,199.77 174.09,199.96 174.93,200.15 175.77,200.34 176.61,200.53 177.45,200.72 178.29,200.90 179.14,201.09 179.98,201.28 180.82,201.46 181.66,201.65 182.50,201.84 183.34,202.02 184.18,202.21 185.03,202.39 185.87,202.57 186.71,202.76 187.55,202.94 188.39,203.12 189.23,203.31 190.07,203.49 190.91,203.67 191.76,203.85 192.60,204.03 193.44,204.21 194.28,204.40 195.12,204.58 195.96,204.76 196.80,204.93 197.65,205.11 198.49,205.29 199.33,205.47 200.17,205.65 201.01,205.83 201.85,206.00 202.69,206.18 203.54,206.36 204.38,206.53 205.22,206.71 206.06,206.89 206.90,207.06 207.74,207.24 208.58,207.41 209.43,207.59 210.27,207.76 211.11,207.93 211.95,208.11 212.79,208.28 213.63,208.45 214.47,208.63 215.31,208.80 216.16,208.97 217.00,209.14 217.84,209.31 218.68,209.49 219.52,209.66 220.36,209.83 221.20,210.00 222.05,210.17 222.89,210.34 223.73,210.51 224.57,210.68 225.41,210.85 226.25,211.01 227.09,211.18 227.94,211.35 228.78,211.52 229.62,211.69 230.46,211.85 231.30,212.02 232.14,212.19 232.98,212.35 233.82,212.52 234.67,212.69 235.51,212.85 236.35,213.02 237.19,213.18 238.03,213.35 238.87,213.51 239.71,213.68 240.56,213.84 241.40,214.01 242.24,214.17 243.08,214.33 243.92,214.50 244.76,214.66 245.60,214.82 246.45,214.99 247.29,215.15 248.13,215.31 248.97,215.47 249.81,215.63 250.65,215.80 251.49,215.96 252.34,216.12 253.18,216.28 254.02,216.44 254.86,216.60 255.70,216.76 256.54,216.92 257.38,217.08 258.22,217.24 259.07,217.40 259.91,217.56 260.75,217.72 261.59,217.88 262.43,218.03 263.27,218.19 264.11,218.35 264.96,218.51 265.80,218.66 266.64,218.82 267.48,218.98 268.32,219.14 269.16,219.29 270.00,219.45 270.85,219.61 271.69,219.76 272.53,219.92 273.37,220.07 274.21,220.23 275.05,220.38 275.89,220.54 276.74,220.69 277.58,220.85 278.42,221.00 279.26,221.16 280.10,221.31 280.94,221.46 281.78,221.62 282.62,221.77 283.47,221.93 284.31,222.08 285.15,222.23 285.99,222.38 286.83,222.54 287.67,222.69 288.51,222.84 289.36,222.99 290.20,223.14 291.04,223.30 291.88,223.45 292.72,223.60 293.56,223.75 294.40,223.90 295.25,224.05 296.09,224.20 296.93,224.35 297.77,224.50 298.61,224.65 299.45,224.80 300.29,224.95 301.13,225.10 301.98,225.25 302.82,225.40 303.66,225.55 304.50,225.70 305.34,225.85 306.18,225.99 307.02,226.14 307.87,226.29 308.71,226.44 309.55,226.59 310.39,226.73 311.23,226.88 312.07,227.03 312.91,227.18 313.76,227.32 314.60,227.47 315.44,227.62 316.28,227.76 317.12,227.91 317.96,228.05 318.80,228.20 319.65,228.35 320.49,228.49 321.33,228.64 322.17,228.78 323.01,228.93 323.85,229.07 324.69,229.22 325.53,229.36 326.38,229.51 327.22,229.65 328.06,229.80 328.90,229.94 329.74,230.08 330.58,230.23 331.42,230.37 332.27,230.51 333.11,230.66 333.95,230.80 334.79,230.94 335.63,231.09 336.47,231.23 337.31,231.37 338.16,231.51 339.00,231.66 339.84,231.80 340.68,231.94 341.52,232.08 342.36,232.22 343.20,232.36 344.05,232.51 344.89,232.65 345.73,232.79 346.57,232.93 347.41,233.07 348.25,233.21 349.09,233.35 349.93,233.49 350.78,233.63 351.62,233.77 352.46,233.91 353.30,234.05 354.14,234.19 354.98,234.33 355.82,234.47 356.67,234.61 357.51,234.75 358.35,234.89 359.19,235.03 360.03,235.16 360.87,235.30 361.71,235.44 362.56,235.58 363.40,235.72 364.24,235.86 365.08,235.99 365.92,236.13 366.76,236.27 367.60,236.41 368.45,236.54 369.29,236.68 370.13,236.82 370.97,236.95 371.81,237.09 372.65,237.23 373.49,237.36 374.33,237.50 375.18,237.64 376.02,237.77 376.86,237.91 377.70,238.05 378.54,238.18 379.38,238.32 380.22,238.45 381.07,238.59 381.91,238.72 382.75,238.86 383.59,238.99 384.43,239.13 385.27,239.26 386.11,239.40 386.96,239.53 387.80,239.67 388.64,239.80 389.48,239.93 390.32,240.07 391.16,240.20 392.00,240.34 392.84,240.47 393.69,240.60 394.53,240.74 395.37,240.87 396.21,241.00 397.05,241.14 397.89,241.27 398.73,241.40 399.58,241.54 400.42,241.67 401.26,241.80 402.10,241.93" stroke="#0000ff"/>
<polyline points="65.55,167.30 65.76,167.09 65.97,166.93 66.18,166.78 66.39,166.64 66.60,166.51 66.81,166.38 67.02,166.26 67.23,166.14 67.44,166.02 67.65,165.91 67.86,165.79 68.07,165.67 68.28,165.55 68.49,165.44 68.71,165.34 68.92,165.23 69.13,165.13 69.34,165.02 69.55,164.92 69.76,164.82 69.97,164.72 70.18,164.61 70.39,164.51 70.60,164.41 70.81,164.32 71.02,164.21 71.23,164.11 71.44,164.02 71.65,163.92 71.86,163.81 72.07,163.70 72.28,163.61 72.49,163.52 72.70,163.43 72.91,163.36 73.12,163.28 73.33,163.20 73.54,163.09 73.75,162.99 73.96,162.92 74.81,162.55 75.65,162.20 76.49,161.88 77.33,161.55 78.17,161.22 79.01,160.90 79.85,160.57 80.69,160.29 81.54,159.98 82.38,159.63 83.22,159.29 84.06,158.93 84.90,158.58 85.74,158.21 86.58,157.92 87.43,157.58 88.27,157.33 89.11,157.04 89.95,156.81 90.79,156.47 91.63,156.11 92.47,155.83 93.32,155.46 94.16,155.20 95.00,154.91 95.84,154.63 96.68,154.40 97.52,154.11 98.36,153.75 99.20,153.54 100.05,153.23 100.89,152.98 101.73,152.64 102.57,152.36 103.41,152.07 104.25,151.80 105.09,151.54 105.94,151.37 106.78,151.07 107.62,150.91 108.46,150.67 109.30,150.41 110.14,150.22 110.98,149.99 111.83,149.70 112.67,149.48 113.51,149.30 114.35,149.22 115.19,149.05 116.03,148.85 116.87,148.66 117.72,148.48 118.56,148.23 119.40,148.04 120.24,147.82 121.08,147.56 121.92,147.38 122.76,147.17 123.60,146.84 124.45,146.57 125.29,146.42 126.13,146.20 126.97,145.95 127.81,145.67 128.65,145.44 129.49,145.25 130.34,145.07 131.18,144.82 132.02,144.59 132.86,144.40 133.70,144.20 134.54,144.01 135.38,143.76 136.23,143.58 137.07,143.33 137.91,143.07 138.75,142.82 139.59,142.63 140.43,142.34 141.27,142.14 142.12,141.88 142.96,141.68 143.80,141.54 144.64,141.29 145.48,141.04 146.32,140.80 147.16,140.55 148.00,140.35 148.85,140.16 149.69,139.93 150.53,139.60 151.37,139.33 152.21,139.12 153.05,138.87 153.89,138.67 154.74,138.47 155.58,138.20 156.42,138.01 157.26,137.88 158.10,137.71 158.94,137.50 159.78,137.28 160.63,137.01 161.47,136.85 162.31,136.63 163.15,136.41 163.99,136.24 164.83,136.03 165.67,135.84 166.51,135.73 167.36,135.53 168.20,135.44 169.04,135.29 169.88,135.14 170.72,134.97 171.56,134.86 172.40,134.72 173.25,134.59 174.09,134.41 174.93,134.33 175.77,134.21 176.61,134.11 177.45,134.06 178.29,133.81 179.14,133.70 179.98,133.66 180.82,133.46 181.66,133.40 182.50,133.26 183.34,133.08 184.18,132.99 185.03,132.87 185.87,132.76 186.71,132.63 187.55,132.56 188.39,132.47 189.23,132.32 190.07,132.10 190.91,131.90 191.76,131.63 192.60,131.42 193.44,131.27 194.28,131.10 195.12,131.02 195.96,130.89 196.80,130.77 197.65,130.57 198.49,130.36 199.33,130.20 200.17,130.05 201.01,129.95 201.85,129.78 202.69,129.59 203.54,129.39 204.38,129.26 205.22,128.99 206.06,128.76 206.90,128.60 207.74,128.46 208.58,128.32 209.43,128.15 210.27,127.99 211.11,127.81 211.95,127.61 212.79,127.40 213.63,127.19 214.47,127.05 215.31,126.89 216.16,126.77 217.00,126.66 217.84,126.42 218.68,126.31 219.52,126.07 220.36,125.95 221.20,125.80 222.05,125.61 222.89,125.48 223.73,125.32 224.57,125.19 225.41,125.08 226.25,124.95 227.09,124.85 227.94,124.63 228.78,124.50 229.62,124.28 230.46,124.29 231.30,124.15 232.14,123.99 232.98,123.87 233.82,123.68 234.67,123.51 235.51,123.39 236.35,123.23 237.19,122.94 238.03,122.79 238.87,122.63 239.71,122.50 240.56,122.35 241.40,122.28 242.24,122.14 243.08,121.87 243.92,121.68 244.76,121.50 245.60,121.30 246.45,121.07 247.29,120.89 248.13,120.64 248.97,120.45 249.81,120.30 250.65,120.07 251.49,120.05 252.34,119.93 253.18,119.78 254.02,119.69 254.86,119.55 255.70,119.44 256.54,119.33 257.38,119.04 258.22,118.86 259.07,118.72 259.91,118.51 260.75,118.37 261.59,118.18 262.43,118.01 263.27,117.78 264.11,117.71 264.96,117.52 265.80,117.36 266.64,117.27 267.48,117.07 268.32,116.97 269.16,116.73 270.00,116.56 270.85,116.38 271.69,116.23 272.53,116.03 273.37,115.98 274.21,115.83 275.05,115.72 275.89,115.56 276.74,115.42 277.58,115.23 278.42,115.13 279.26,114.89 280.10,114.62 280.94,114.47 281.78,114.32 282.62,114.16 283.47,113.94 284.31,113.69 285.15,113.60 285.99,113.48 286.83,113.39 287.67,113.29 288.51,113.22 289.36,113.04 290.20,112.94 291.04,112.70 291.88,112.49 292.72,112.38 293.56,112.27 294.40,112.14 295.25,111.91 296.09,111.79 296.93,111.70 297.77,111.52 298.61,111.33 299.45,111.19 300.29,110.93 301.13,110.74 301.98,110.53 302.82,110.39 303.66,110.20 304.50,110.01 305.34,109.93 306.18,109.72 307.02,109.60 307.87,109.40 308.71,109.26 309.55,108.94 310.39,108.70 311.23,108.44 312.07,108.17 312.91,108.02 313.76,107.92 314.60,107.71 315.44,107.44 316.28,107.21 317.12,106.94 317.96,106.67 318.80,106.51 319.65,106.27 320.49,105.95 321.33,105.75 322.17,105.64 323.01,105.43 323.85,105.23 324.69,105.00 325.53,104.83 326.38,104.62 327.22,104.53 328.06,104.29 328.90,104.00 329.74,103.74 330.58,103.63 331.42,103.43 332.27,103.41 333.11,103.22 333.95,103.04 334.79,102.93 335.63,102.74 336.47,102.57 337.31,102.35 338.16,102.18 339.00,102.00 339.84,101.94 340.68,101.84 341.52,101.70 342.36,101.52 343.20,101.36 344.05,101.12 344.89,101.01 345.73,100.86 346.57,100.68 347.41,100.53 348.25,100.34 349.09,100.21 349.93,99.98 350.78,99.83 351.62,99.62 352.46,99.47 353.30,99.23 354.14,99.15 354.98,98.96 355.82,98.83 356.67,98.67 357.51,98.45 358.35,98.37 359.19,98.29 360.03,98.19 360.87,98.03 361.71,97.98 362.56,97.83 363.40,97.75 364.24,97.67 365.08,97.54 365.92,97.38 366.76,97.27 367.60,97.14 368.45,97.00 369.29,96.86 370.13,96.85 370.97,96.73 371.81,96.58 372.65,96.38 373.49,96.13 374.33,95.96 375.18,95.81 376.02,95.72 376.86,95.58 377.70,95.40 378.54,95.20 379.38,95.11 380.22,94.97 381.07,94.79 381.91,94.56 382.75,94.41 383.59,94.31 384.43,94.22 385.27,94.11 386.11,94.02 386.96,93.85 387.80,93.67 388.64,93.51 389.48,93.32 390.32,93.22 391.16,93.08 392.00,92.97 392.84,92.84 393.69,92.66 394.53,92.53 395.37,92.50 396.21,92.39 397.05,92.30 397.89,92.25 398.73,92.16 399.58,91.98 400.42,91.76 401.26,91.66 402.10,91.47" stroke="#ff0000"/>
<polyline points="65.55,167.30 65.76,167.54 65.97,167.68 66.18,167.79 66.39,167.89 66.60,167.98 66.81,168.07 67.02,168.16 67.23,168.24 67.44,168.31 67.65,168.39 67.86,168.46 68.07,168.53 68.28,168.60 68.49,168.67 68.71,168.73 68.92,168.80 69.13,168.86 69.34,168.92 69.55,168.99 69.76,169.05 69.97,169.11 70.18,169.17 70.39,169.23 70.60,169.28 70.81,169.34 71.02,169.40 71.23,169.45 71.44,169.51 71.65,169.57 71.86,169.62 72.07,169.68 72.28,169.73 72.49,169.78 72.70,169.84 72.91,169.89 73.12,169.94 73.33,169.99 73.54,170.05 73.75,170.10 73.96,170.15 74.81,170.35 75.65,170.55 76.49,170.74 77.33,170.93 78.17,171.12 79.01,171.31 79.85,171.49 80.69,171.67 81.54,171.85 82.38,172.02 83.22,172.20 84.06,172.37 84.90,172.54 85.74,172.71 86.58,172.88 87.43,173.05 88.27,173.21 89.11,173.38 89.95,173.54 90.79,173.70 91.63,173.86 92.47,174.02 93.32,174.18 94.16,174.34 95.00,174.50 95.84,174.66 96.68,174.81 97.52,174.97 98.36,175.12 99.20,175.28 100.05,175.43 100.89,175.58 101.73,175.73 102.57,175.89 103.41,176.04 104.25,176.19 105.09,176.34 105.94,176.48 106.78,176.63 107.62,176.78 108.46,176.93 109.30,177.08 110.14,177.22 110.98,177.37 111.83,177.51 112.67,177.66 113.51,177.80 114.35,177.95 115.19,178.09 116.03,178.23 116.87,178.38 117.72,178.52 118.56,178.66 119.40,178.81 120.24,178.95 121.08,179.09 121.92,179.23 122.76,179.37 123.60,179.51 124.45,179.65 125.29,179.79 126.13,179.93 126.97,180.07 127.81,180.21 128.65,180.35 129.49,180.48 130.34,180.62 131.18,180.76 132.02,180.90 132.86,181.03 133.70,181.17 134.54,181.31 135.38,181.44 136.23,181.58 137.07,181.72 137.91,181.85 138.75,181.99 139.59,182.12 140.43,182.26 141.27,182.39 142.12,182.53 142.96,182.66 143.80,182.79 144.64,182.93 145.48,183.06 146.32,183.19 147.16,183.33 148.00,183.46 148.85,183.59 149.69,183.73 150.53,183.86 151.37,183.99 152.21,184.12 153.05,184.26 153.89,184.39 154.74,184.52 155.58,184.65 156.42,184.78 157.26,184.91 158.10,185.04 158.94,185.17 159.78,185.30 160.63,185.43 161.47,185.57 162.31,185.70 163.15,185.83 163.99,185.96 164.83,186.08 165.67,186.21 166.51,186.34 167.36,186.47 168.20,186.60 169.04,186.73 169.88,186.86 170.72,186.99 171.56,187.12 172.40,187.24 173.25,187.37 174.09,187.50 174.93,187.63 175.77,187.76 176.61,187.88 177.45,188.01 178.29,188.14 179.14,188.27 179.98,188.39 180.82,188.52 181.66,188.65 182.50,188.77 183.34,188.90 184.18,189.03 185.03,189.15 185.87,189.28 186.71,189.41 187.55,189.53 188.39,189.66 189.23,189.79 190.07,189.91 190.91,190.04 191.76,190.16 192.60,190.29 193.44,190.41 194.28,190.54 195.12,190.66 195.96,190.79 196.80,190.91 197.65,191.04 198.49,191.16 199.33,191.29 200.17,191.41 201.01,191.54 201.85,191.66 202.69,191.79 203.54,191.91 204.38,192.03 205.22,192.16 206.06,192.28 206.90,192.41 207.74,192.53 208.58,192.65 209.43,192.78 210.27,192.90 211.11,193.02 211.95,193.15 212.79,193.27 213.63,193.39 214.47,193.52 215.31,193.64 216.16,193.76 217.00,193.88 217.84,194.01 218.68,194.13 219.52,194.25 220.36,194.37 221.20,194.50 222.05,194.62 222.89,194.74 223.73,194.86 224.57,194.99 225.41,195.11 226.25,195.23 227.09,195.35 227.94,195.47 228.78,195.59 229.62,195.72 230.46,195.84 231.30,195.96 232.14,196.08 232.98,196.20 233.82,196.32 234.67,196.44 235.51,196.57 236.35,196.69 237.19,196.81 238.03,196.93 238.87,197.05 239.71,197.17 240.56,197.29 241.40,197.41 242.24,197.53 243.08,197.65 243.92,197.77 244.76,197.89 245.60,198.01 246.45,198.13 247.29,198.25 248.13,198.37 248.97,198.49 249.81,198.61 250.65,198.73 251.49,198.85 252.34,198.97 253.18,199.09 254.02,199.21 254.86,199.33 255.70,199.45 256.54,199.57 257.38,199.69 258.22,199.81 259.07,199.93 259.91,200.05 260.75,200.17 261.59,200.29 262.43,200.40 263.27,200.52 264.11,200.64 264.96,200.76 265.80,200.88 266.64,201.00 267.48,201.12 268.32,201.24 269.16,201.36 270.00,201.47 270.85,201.59 271.69,201.71 272.53,201.83 273.37,201.95 274.21,202.07 275.05,202.18 275.89,202.30 276.74,202.42 277.58,202.54 278.42,202.66 279.26,202.77 280.10,202.89 280.94,203.01 281.78,203.13 282.62,203.25 283.47,203.36 284.31,203.48 285.15,203.60 285.99,203.72 286.83,203.83 287.67,203.95 288.51,204.07 289.36,204.19 290.20,204.30 291.04,204.42 291.88,204.54 292.72,204.65 293.56,204.77 294.40,204.89 295.25,205.01 296.09,205.12 296.93,205.24 297.77,205.36 298.61,205.47 299.45,205.59 300.29,205.71 301.13,205.82 301.98,205.94 302.82,206.06 303.66,206.17 304.50,206.29 305.34,206.41 306.18,206.52 307.02,206.64 307.87,206.76 308.71,206.87 309.55,206.99 310.39,207.11 311.23,207.22 312.07,207.34 312.91,207.45 313.76,207.57 314.60,207.69 315.44,207.80 316.28,207.92 317.12,208.03 317.96,208.15 318.80,208.27 319.65,208.38 320.49,208.50 321.33,208.61 322.17,208.73 323.01,208.84 323.85,208.96 324.69,209.08 325.53,209.19 326.38,209.31 327.22,209.42 328.06,209.54 328.90,209.65 329.74,209.77 330.58,209.88 331.42,210.00 332.27,210.11 333.11,210.23 333.95,210.34 334.79,210.46 335.63,210.57 336.47,210.69 337.31,210.80 338.16,210.92 339.00,211.03 339.84,211.15 340.68,211.26 341.52,211.38 342.36,211.49 343.20,211.61 344.05,211.72 344.89,211.84 345.73,211.95 346.57,212.07 347.41,212.18 348.25,212.30 349.09,212.41 349.93,212.52 350.78,212.64 351.62,212.75 352.46,212.87 353.30,212.98 354.14,213.10 354.98,213.21 355.82,213.33 356.67,213.44 357.51,213.55 358.35,213.67 359.19,213.78 360.03,213.90 360.87,214.01 361.71,214.12 362.56,214.24 363.40,214.35 364.24,214.47 365.08,214.58 365.92,214.69 366.76,214.81 367.60,214.92 368.45,215.03 369.29,215.15 370.13,215.26 370.97,215.38 371.81,215.49 372.65,215.60 373.49,215.72 374.33,215.83 375.18,215.94 376.02,216.06 376.86,216.17 377.70,216.28 378.54,216.40 379.38,216.51 380.22,216.62 381.07,216.74 381.91,216.85 382.75,216.96 383.59,217.08 384.43,217.19 385.27,217.30 386.11,217.42 386.96,217.53 387.80,217.64 388.64,217.76 389.48,217.87 390.32,217.98 391.16,218.09 392.00,218.21 392.84,218.32 393.69,218.43 394.53,218.55 395.37,218.66 396.21,218.77 397.05,218.88 397.89,219.00 398.73,219.11 399.58,219.22 400.42,219.34 401.26,219.45 402.10,219.56" stroke="#ff0000"/>
<polyline points="65.55,167.30 65.76,167.25 65.97,167.20 66.18,167.15 66.39,167.11 66.60,167.06 66.81,167.01 67.02,166.96 67.23,166.91 67.44,166.87 67.65,166.82 67.86,166.77 68.07,166.72 68.28,166.66 68.49,166.61 68.71,166.57 68.92,166.52 69.13,166.48 69.34,166.42 69.55,166.38 69.76,166.34 69.97,166.29 70.18,166.23 70.39,166.18 70.60,166.13 70.81,166.09 71.02,166.03 71.23,165.98 71.44,165.94 71.65,165.89 71.86,165.83 72.07,165.76 72.28,165.72 72.49,165.67 72.70,165.63 72.91,165.60 73.12,165.56 73.33,165.52 73.54,165.46 73.75,165.41 73.96,165.38 74.81,165.17 75.65,164.97 76.49,164.80 77.33,164.61 78.17,164.42 79.01,164.25 79.85,164.05 80.69,163.91 81.54,163.73 82.38,163.52 83.22,163.31 84.06,163.10 84.90,162.88 85.74,162.64 86.58,162.49 87.43,162.29 88.27,162.17 89.11,162.02 89.95,161.92 90.79,161.71 91.63,161.49 92.47,161.34 93.32,161.10 94.16,160.97 95.00,160.82 95.84,160.66 96.68,160.57 97.52,160.40 98.36,160.17 99.20,160.08 100.05,159.90 100.89,159.78 101.73,159.56 102.57,159.40 103.41,159.24 104.25,159.08 105.09,158.95 105.94,158.90 106.78,158.71 107.62,158.68 108.46,158.55 109.30,158.41 110.14,158.34 110.98,158.23 111.83,158.06 112.67,157.95 113.51,157.89 114.35,157.93 115.19,157.88 116.03,157.80 116.87,157.71 117.72,157.65 118.56,157.53 119.40,157.45 120.24,157.34 121.08,157.20 121.92,157.13 122.76,157.04 123.60,156.82 124.45,156.67 125.29,156.63 126.13,156.53 126.97,156.39 127.81,156.22 128.65,156.11 129.49,156.02 130.34,155.95 131.18,155.81 132.02,155.69 132.86,155.61 133.70,155.52 134.54,155.43 135.38,155.29 136.23,155.21 137.07,155.07 137.91,154.91 138.75,154.77 139.59,154.69 140.43,154.49 141.27,154.40 142.12,154.24 142.96,154.14 143.80,154.10 144.64,153.95 145.48,153.80 146.32,153.67 147.16,153.52 148.00,153.41 148.85,153.32 149.69,153.19 150.53,152.96 151.37,152.78 152.21,152.67 153.05,152.51 153.89,152.41 154.74,152.30 155.58,152.13 156.42,152.03 157.26,151.99 158.10,151.92 158.94,151.80 159.78,151.67 160.63,151.49 161.47,151.43 162.31,151.29 163.15,151.16 163.99,151.08 164.83,150.95 165.67,150.85 166.51,150.83 167.36,150.71 168.20,150.71 169.04,150.64 169.88,150.58 170.72,150.48 171.56,150.46 172.40,150.40 173.25,150.35 174.09,150.25 174.93,150.25 175.77,150.21 176.61,150.18 177.45,150.21 178.29,150.03 179.14,150.00 179.98,150.03 180.82,149.92 181.66,149.93 182.50,149.86 183.34,149.76 184.18,149.74 185.03,149.70 185.87,149.66 186.71,149.60 187.55,149.60 188.39,149.59 189.23,149.51 190.07,149.36 190.91,149.23 191.76,149.04 192.60,148.90 193.44,148.83 194.28,148.73 195.12,148.73 195.96,148.67 196.80,148.61 197.65,148.49 198.49,148.35 199.33,148.27 200.17,148.20 201.01,148.17 201.85,148.07 202.69,147.96 203.54,147.83 204.38,147.77 205.22,147.58 206.06,147.42 206.90,147.34 207.74,147.28 208.58,147.21 209.43,147.11 210.27,147.02 211.11,146.92 211.95,146.80 212.79,146.65 213.63,146.52 214.47,146.46 215.31,146.37 216.16,146.32 217.00,146.28 217.84,146.12 218.68,146.08 219.52,145.91 220.36,145.87 221.20,145.80 222.05,145.68 222.89,145.61 223.73,145.53 224.57,145.47 225.41,145.43 226.25,145.37 227.09,145.34 227.94,145.20 228.78,145.14 229.62,144.99 230.46,145.07 231.30,145.00 232.14,144.91 232.98,144.86 233.82,144.74 234.67,144.64 235.51,144.59 236.35,144.50 237.19,144.28 238.03,144.19 238.87,144.10 239.71,144.05 240.56,143.97 241.40,143.96 242.24,143.90 243.08,143.70 243.92,143.57 244.76,143.47 245.60,143.33 246.45,143.16 247.29,143.06 248.13,142.88 248.97,142.75 249.81,142.67 250.65,142.50 251.49,142.55 252.34,142.50 253.18,142.41 254.02,142.38 254.86,142.31 255.70,142.26 256.54,142.21 257.38,141.99 258.22,141.87 259.07,141.79 259.91,141.64 260.75,141.57 261.59,141.43 262.43,141.33 263.27,141.15 264.11,141.14 264.96,141.01 265.80,140.91 266.64,140.87 267.48,140.72 268.32,140.67 269.16,140.49 270.00,140.37 270.85,140.23 271.69,140.13 272.53,139.98 273.37,139.97 274.21,139.87 275.05,139.80 275.89,139.68 276.74,139.58 277.58,139.43 278.42,139.37 279.26,139.16 280.10,138.93 280.94,138.82 281.78,138.71 282.62,138.58 283.47,138.40 284.31,138.18 285.15,138.13 285.99,138.05 286.83,137.98 287.67,137.92 288.51,137.89 289.36,137.74 290.20,137.68 291.04,137.47 291.88,137.30 292.72,137.23 293.56,137.16 294.40,137.07 295.25,136.87 296.09,136.80 296.93,136.74 297.77,136.62 298.61,136.46 299.45,136.37 300.29,136.15 301.13,136.01 301.98,135.85 302.82,135.76 303.66,135.62 304.50,135.48 305.34,135.45 306.18,135.29 307.02,135.23 307.87,135.07 308.71,134.99 309.55,134.72 310.39,134.54 311.23,134.33 312.07,134.12 312.91,134.02 313.76,133.97 314.60,133.82 315.44,133.61 316.28,133.43 317.12,133.22 317.96,133.00 318.80,132.91 319.65,132.73 320.49,132.46 321.33,132.32 322.17,132.27 323.01,132.12 323.85,131.98 324.69,131.81 325.53,131.70 326.38,131.55 327.22,131.52 328.06,131.34 328.90,131.12 329.74,130.91 330.58,130.86 331.42,130.72 332.27,130.76 333.11,130.63 333.95,130.52 334.79,130.47 335.63,130.34 336.47,130.23 337.31,130.08 338.16,129.97 339.00,129.85 339.84,129.85 340.68,129.81 341.52,129.74 342.36,129.63 343.20,129.53 344.05,129.36 344.89,129.30 345.73,129.22 346.57,129.11 347.41,129.02 348.25,128.89 349.09,128.83 349.93,128.66 350.78,128.59 351.62,128.44 352.46,128.35 353.30,128.18 354.14,128.16 354.98,128.04 355.82,127.97 356.67,127.88 357.51,127.73 358.35,127.71 359.19,127.70 360.03,127.67 360.87,127.57 361.71,127.59 362.56,127.50 363.40,127.49 364.24,127.47 365.08,127.41 365.92,127.31 366.76,127.27 367.60,127.21 368.45,127.13 369.29,127.06 370.13,127.12 370.97,127.06 371.81,126.97 372.65,126.84 373.49,126.66 374.33,126.55 375.18,126.47 376.02,126.44 376.86,126.36 377.70,126.25 378.54,126.12 379.38,126.09 380.22,126.01 381.07,125.90 381.91,125.73 382.75,125.65 383.59,125.62 384.43,125.59 385.27,125.54 386.11,125.52 386.96,125.41 387.80,125.30 388.64,125.20 389.48,125.08 390.32,125.05 391.16,124.97 392.00,124.93 392.84,124.86 393.69,124.74 394.53,124.68 395.37,124.71 396.21,124.66 397.05,124.64 397.89,124.65 398.73,124.63 399.58,124.51 400.42,124.36 401.26,124.32 402.10,124.20" stroke="#ff8000"/>
<polyline points="65.55,167.30 65.76,167.40 65.97,167.44 66.18,167.47 66.39,167.50 66.60,167.53 66.81,167.56 67.02,167.58 67.23,167.61 67.44,167.63 67.65,167.66 67.86,167.68 68.07,167.70 68.28,167.72 68.49,167.74 68.71,167.77 68.92,167.79 69.13,167.81 69.34,167.83 69.55,167.85 69.76,167.87 69.97,167.89 70.18,167.91 70.39,167.93 70.60,167.95 70.81,167.97 71.02,167.99 71.23,168.00 71.44,168.02 71.65,168.04 71.86,168.06 72.07,168.08 72.28,168.10 72.49,168.12 72.70,168.14 72.91,168.15 73.12,168.17 73.33,168.19 73.54,168.21 73.75,168.23 73.96,168.24 74.81,168.32 75.65,168.39 76.49,168.46 77.33,168.53 78.17,168.60 79.01,168.66 79.85,168.73 80.69,168.80 81.54,168.87 82.38,168.93 83.22,169.00 84.06,169.07 84.90,169.13 85.74,169.20 86.58,169.26 87.43,169.33 88.27,169.39 89.11,169.46 89.95,169.52 90.79,169.59 91.63,169.65 92.47,169.71 93.32,169.78 94.16,169.84 95.00,169.91 95.84,169.97 96.68,170.03 97.52,170.10 98.36,170.16 99.20,170.22 100.05,170.29 100.89,170.35 101.73,170.41 102.57,170.47 103.41,170.54 104.25,170.60 105.09,170.66 105.94,170.72 106.78,170.79 107.62,170.85 108.46,170.91 109.30,170.97 110.14,171.03 110.98,171.10 111.83,171.16 112.67,171.22 113.51,171.28 114.35,171.34 115.19,171.40 116.03,171.47 116.87,171.53 117.72,171.59 118.56,171.65 119.40,171.71 120.24,171.77 121.08,171.83 121.92,171.89 122.76,171.96 123.60,172.02 124.45,172.08 125.29,172.14 126.13,172.20 126.97,172.26 127.81,172.32 128.65,172.38 129.49,172.44 130.34,172.50 131.18,172.56 132.02,172.63 132.86,172.69 133.70,172.75 134.54,172.81 135.38,172.87 136.23,172.93 137.07,172.99 137.91,173.05 138.75,173.11 139.59,173.17 140.43,173.23 141.27,173.29 142.12,173.35 142.96,173.41 143.80,173.47 144.64,173.53 145.48,173.59 146.32,173.65 147.16,173.71 148.00,173.77 148.85,173.83 149.69,173.89 150.53,173.95 151.37,174.01 152.21,174.07 153.05,174.13 153.89,174.19 154.74,174.25 155.58,174.31 156.42,174.37 157.26,174.43 158.10,174.49 158.94,174.55 159.78,174.61 160.63,174.67 161.47,174.73 162.31,174.79 163.15,174.85 163.99,174.91 164.83,174.97 165.67,175.03 166.51,175.09 167.36,175.15 168.20,175.21 169.04,175.27 169.88,175.33 170.72,175.38 171.56,175.44 172.40,175.50 173.25,175.56 174.09,175.62 174.93,175.68 175.77,175.74 176.61,175.80 177.45,175.86 178.29,175.92 179.14,175.98 179.98,176.04 180.82,176.10 181.66,176.16 182.50,176.22 183.34,176.28 184.18,176.33 185.03,176.39 185.87,176.45 186.71,176.51 187.55,176.57 188.39,176.63 189.23,176.69 190.07,176.75 190.91,176.81 191.76,176.87 192.60,176.93 193.44,176.99 194.28,177.04 195.12,177.10 195.96,177.16 196.80,177.22 197.65,177.28 198.49,177.34 199.33,177.40 200.17,177.46 201.01,177.52 201.85,177.58 202.69,177.63 203.54,177.69 204.38,177.75 205.22,177.81 206.06,177.87 206.90,177.93 207.74,177.99 208.58,178.05 209.43,178.11 210.27,178.16 211.11,178.22 211.95,178.28 212.79,178.34 213.63,178.40 214.47,178.46 215.31,178.52 216.16,178.58 217.00,178.64 217.84,178.69 218.68,178.75 219.52,178.81 220.36,178.87 221.20,178.93 222.05,178.99 222.89,179.05 223.73,179.10 224.57,179.16 225.41,179.22 226.25,179.28 227.09,179.34 227.94,179.40 228.78,179.46 229.62,179.52 230.46,179.57 231.30,179.63 232.14,179.69 232.98,179.75 233.82,179.81 234.67,179.87 235.51,179.93 236.35,179.98 237.19,180.04 238.03,180.10 238.87,180.16 239.71,180.22 240.56,180.28 241.40,180.34 242.24,180.39 243.08,180.45 243.92,180.51 244.76,180.57 245.60,180.63 246.45,180.69 247.29,180.75 248.13,180.80 248.97,180.86 249.81,180.92 250.65,180.98 251.49,181.04 252.34,181.10 253.18,181.15 254.02,181.21 254.86,181.27 255.70,181.33 256.54,181.39 257.38,181.45 258.22,181.50 259.07,181.56 259.91,181.62 260.75,181.68 261.59,181.74 262.43,181.80 263.27,181.85 264.11,181.91 264.96,181.97 265.80,182.03 266.64,182.09 267.48,182.15 268.32,182.20 269.16,182.26 270.00,182.32 270.85,182.38 271.69,182.44 272.53,182.50 273.37,182.55 274.21,182.61 275.05,182.67 275.89,182.73 276.74,182.79 277.58,182.85 278.42,182.90 279.26,182.96 280.10,183.02 280.94,183.08 281.78,183.14 282.62,183.19 283.47,183.25 284.31,183.31 285.15,183.37 285.99,183.43 286.83,183.49 287.67,183.54 288.51,183.60 289.36,183.66 290.20,183.72 291.04,183.78 291.88,183.83 292.72,183.89 293.56,183.95 294.40,184.01 295.25,184.07 296.09,184.13 296.93,184.18 297.77,184.24 298.61,184.30 299.45,184.36 300.29,184.42 301.13,184.47 301.98,184.53 302.82,184.59 303.66,184.65 304.50,184.71 305.34,184.76 306.18,184.82 307.02,184.88 307.87,184.94 308.71,185.00 309.55,185.05 310.39,185.11 311.23,185.17 312.07,185.23 312.91,185.29 313.76,185.34 314.60,185.40 315.44,185.46 316.28,185.52 317.12,185.58 317.96,185.63 318.80,185.69 319.65,185.75 320.49,185.81 321.33,185.87 322.17,185.92 323.01,185.98 323.85,186.04 324.69,186.10 325.53,186.16 326.38,186.21 327.22,186.27 328.06,186.33 328.90,186.39 329.74,186.45 330.58,186.50 331.42,186.56 332.27,186.62 333.11,186.68 333.95,186.74 334.79,186.79 335.63,186.85 336.47,186.91 337.31,186.97 338.16,187.03 339.00,187.08 339.84,187.14 340.68,187.20 341.52,187.26 342.36,187.31 343.20,187.37 344.05,187.43 344.89,187.49 345.73,187.55 346.57,187.60 347.41,187.66 348.25,187.72 349.09,187.78 349.93,187.84 350.78,187.89 351.62,187.95 352.46,188.01 353.30,188.07 354.14,188.12 354.98,188.18 355.82,188.24 356.67,188.30 357.51,188.36 358.35,188.41 359.19,188.47 360.03,188.53 360.87,188.59 361.71,188.64 362.56,188.70 363.40,188.76 364.24,188.82 365.08,188.88 365.92,188.93 366.76,188.99 367.60,189.05 368.45,189.11 369.29,189.16 370.13,189.22 370.97,189.28 371.81,189.34 372.65,189.40 373.49,189.45 374.33,189.51 375.18,189.57 376.02,189.63 376.86,189.68 377.70,189.74 378.54,189.80 379.38,189.86 380.22,189.92 381.07,189.97 381.91,190.03 382.75,190.09 383.59,190.15 384.43,190.20 385.27,190.26 386.11,190.32 386.96,190.38 387.80,190.43 388.64,190.49 389.48,190.55 390.32,190.61 391.16,190.67 392.00,190.72 392.84,190.78 393.69,190.84 394.53,190.90 395.37,190.95 396.21,191.01 397.05,191.07 397.89,191.13 398.73,191.18 399.58,191.24 400.42,191.30 401.26,191.36 402.10,191.41" stroke="#ff8000"/>
</g>
<line x1="65.55" x2="402.10" y1="167.30" y2="167.30" stroke="#333" stroke-width="0.9"/>
<rect x="65.55" y="21.50" width="336.55" height="291.60" fill="none" stroke="#000" stroke-width="3.85"/>
<path d="M132.86 313.10v-8.90 M132.86 21.50v8.90 M200.17 313.10v-8.90 M200.17 21.50v8.90 M267.48 313.10v-8.90 M267.48 21.50v8.90 M334.79 313.10v-8.90 M334.79 21.50v8.90 M65.55 296.90h9.90 M402.10 296.90h-9.90 M65.55 232.10h9.90 M402.10 232.10h-9.90 M65.55 167.30h9.90 M402.10 167.30h-9.90 M65.55 102.50h9.90 M402.10 102.50h-9.90 M65.55 37.70h9.90 M402.10 37.70h-9.90 " stroke="#000" stroke-width="3.85" fill="none"/>
<g clip-path="url(#cr)" fill="none" stroke-width="3.2" stroke-linejoin="round">
<polyline points="503.20,321.21 503.20,319.92 503.20,318.62 503.20,317.33 503.20,316.03 503.20,314.74 503.20,313.44 503.20,312.15 503.20,310.85 503.20,309.56 503.20,308.26 503.20,306.97 503.20,305.67 503.20,304.38 503.20,303.08 503.20,301.79 503.20,300.49 503.20,299.20 503.20,297.90 503.20,296.61 503.20,295.31 503.20,294.02 503.20,292.72 503.20,291.43 503.20,290.13 503.20,288.84 503.20,287.54 503.20,286.25 503.20,284.95 503.20,283.66 503.20,282.36 503.20,281.06 503.20,279.77 503.20,278.47 503.20,277.18 503.20,275.88 503.20,274.59 503.20,273.29 503.20,272.00 503.20,270.70 503.20,269.41 503.20,268.11 503.20,266.82 503.20,265.52 503.20,264.23 503.20,262.93 503.20,261.64 503.20,260.34 503.20,259.05 503.20,257.75 503.20,256.46 503.20,255.16 503.20,253.87 503.20,252.57 503.20,251.28 503.20,249.98 503.20,248.69 503.20,247.39 503.20,246.10 503.20,244.80 503.20,243.51 503.20,242.21 503.20,240.92 503.20,239.62 503.20,238.33 503.20,237.03 503.20,235.74 503.20,234.44 503.21,233.15 503.21,231.85 503.21,230.56 503.21,229.26 503.21,227.97 503.21,226.67 503.22,225.38 503.22,224.08 503.23,222.78 503.23,221.49 503.24,220.19 503.25,218.90 503.26,217.60 503.27,216.31 503.29,215.01 503.31,213.72 503.33,212.42 503.36,211.13 503.40,209.83 503.44,208.54 503.50,207.24 503.56,205.95 503.64,204.65 503.74,203.36 503.86,202.06 504.01,200.77 504.19,199.47 504.40,198.18 504.67,196.88 504.99,195.59 505.38,194.29 505.85,193.00 506.43,191.70 507.13,190.41 507.98,189.11 509.00,187.82 510.24,186.52 511.72,185.23 513.50,183.93 515.62,182.64 518.15,181.34 521.13,180.05 524.62,178.75 528.69,177.46 533.39,176.16 538.75,174.87 544.80,173.57 551.53,172.28 558.91,170.98 566.88,169.69 575.32,168.39 584.09,167.10 593.05,165.80 602.01,164.50 610.78,163.21 619.22,161.91 627.19,160.62 634.57,159.32 641.30,158.03 647.35,156.73 652.71,155.44 657.41,154.14 661.48,152.85 664.97,151.55 667.95,150.26 670.48,148.96 672.60,147.67 674.38,146.37 675.86,145.08 677.10,143.78 678.12,142.49 678.97,141.19 679.67,139.90 680.25,138.60 680.72,137.31 681.11,136.01 681.43,134.72 681.70,133.42 681.91,132.13 682.09,130.83 682.24,129.54 682.36,128.24 682.46,126.95 682.54,125.65 682.60,124.36 682.66,123.06 682.70,121.77 682.74,120.47 682.77,119.18 682.79,117.88 682.81,116.59 682.83,115.29 682.84,114.00 682.85,112.70 682.86,111.41 682.87,110.11 682.87,108.82 682.88,107.52 682.88,106.22 682.89,104.93 682.89,103.63 682.89,102.34 682.89,101.04 682.89,99.75 682.89,98.45 682.90,97.16 682.90,95.86 682.90,94.57 682.90,93.27 682.90,91.98 682.90,90.68 682.90,89.39 682.90,88.09 682.90,86.80 682.90,85.50 682.90,84.21 682.90,82.91 682.90,81.62 682.90,80.32 682.90,79.03 682.90,77.73 682.90,76.44 682.90,75.14 682.90,73.85 682.90,72.55 682.90,71.26 682.90,69.96 682.90,68.67 682.90,67.37 682.90,66.08 682.90,64.78 682.90,63.49 682.90,62.19 682.90,60.90 682.90,59.60 682.90,58.31 682.90,57.01 682.90,55.72 682.90,54.42 682.90,53.13 682.90,51.83 682.90,50.54 682.90,49.24 682.90,47.94 682.90,46.65 682.90,45.35 682.90,44.06 682.90,42.76 682.90,41.47 682.90,40.17 682.90,38.88 682.90,37.58 682.90,36.29 682.90,34.99 682.90,33.70 682.90,32.40 682.90,31.11 682.90,29.81 682.90,28.52 682.90,27.22 682.90,25.93 682.90,24.63 682.90,23.34 682.90,22.04 682.90,20.75 682.90,19.45 682.90,18.16 682.90,16.86 682.90,15.57 682.90,14.27 682.90,12.98 682.90,11.68 682.90,10.39" stroke="#000000"/>
<polyline points="518.15,321.21 518.42,319.92 518.70,318.62 518.99,317.33 519.28,316.03 519.57,314.74 519.87,313.44 520.18,312.15 520.49,310.85 520.80,309.56 521.13,308.26 521.45,306.97 521.78,305.67 522.12,304.38 522.46,303.08 522.80,301.79 523.16,300.49 523.51,299.20 523.88,297.90 524.25,296.61 524.62,295.31 525.00,294.02 525.39,292.72 525.78,291.43 526.18,290.13 526.58,288.84 526.99,287.54 527.41,286.25 527.83,284.95 528.26,283.66 528.69,282.36 529.13,281.06 529.58,279.77 530.03,278.47 530.49,277.18 530.96,275.88 531.43,274.59 531.91,273.29 532.39,272.00 532.89,270.70 533.39,269.41 533.89,268.11 534.40,266.82 534.92,265.52 535.45,264.23 535.98,262.93 536.52,261.64 537.07,260.34 537.62,259.05 538.18,257.75 538.75,256.46 539.32,255.16 539.90,253.87 540.49,252.57 541.08,251.28 541.69,249.98 542.29,248.69 542.91,247.39 543.53,246.10 544.16,244.80 544.80,243.51 545.44,242.21 546.09,240.92 546.74,239.62 547.41,238.33 548.08,237.03 548.76,235.74 549.44,234.44 550.13,233.15 550.83,231.85 551.53,230.56 552.24,229.26 552.96,227.97 553.68,226.67 554.41,225.38 555.14,224.08 555.88,222.78 556.63,221.49 557.39,220.19 558.15,218.90 558.91,217.60 559.68,216.31 560.46,215.01 561.24,213.72 562.03,212.42 562.83,211.13 563.63,209.83 564.43,208.54 565.24,207.24 566.06,205.95 566.88,204.65 567.70,203.36 568.53,202.06 569.36,200.77 570.20,199.47 571.04,198.18 571.89,196.88 572.74,195.59 573.60,194.29 574.45,193.00 575.32,191.70 576.18,190.41 577.05,189.11 577.92,187.82 578.80,186.52 579.67,185.23 580.55,183.93 581.43,182.64 582.32,181.34 583.21,180.05 584.09,178.75 584.99,177.46 585.88,176.16 586.77,174.87 587.67,173.57 588.56,172.28 589.46,170.98 590.36,169.69 591.25,168.39 592.15,167.10 593.05,165.80 593.95,164.50 594.85,163.21 595.74,161.91 596.64,160.62 597.54,159.32 598.43,158.03 599.33,156.73 600.22,155.44 601.11,154.14 602.01,152.85 602.89,151.55 603.78,150.26 604.67,148.96 605.55,147.67 606.43,146.37 607.30,145.08 608.18,143.78 609.05,142.49 609.92,141.19 610.78,139.90 611.65,138.60 612.50,137.31 613.36,136.01 614.21,134.72 615.06,133.42 615.90,132.13 616.74,130.83 617.57,129.54 618.40,128.24 619.22,126.95 620.04,125.65 620.86,124.36 621.67,123.06 622.47,121.77 623.27,120.47 624.07,119.18 624.86,117.88 625.64,116.59 626.42,115.29 627.19,114.00 627.95,112.70 628.71,111.41 629.47,110.11 630.22,108.82 630.96,107.52 631.69,106.22 632.42,104.93 633.14,103.63 633.86,102.34 634.57,101.04 635.27,99.75 635.97,98.45 636.66,97.16 637.34,95.86 638.02,94.57 638.69,93.27 639.36,91.98 640.01,90.68 640.66,89.39 641.30,88.09 641.94,86.80 642.57,85.50 643.19,84.21 643.81,82.91 644.41,81.62 645.02,80.32 645.61,79.03 646.20,77.73 646.78,76.44 647.35,75.14 647.92,73.85 648.48,72.55 649.03,71.26 649.58,69.96 650.12,68.67 650.65,67.37 651.18,66.08 651.70,64.78 652.21,63.49 652.71,62.19 653.21,60.90 653.71,59.60 654.19,58.31 654.67,57.01 655.14,55.72 655.61,54.42 656.07,53.13 656.52,51.83 656.97,50.54 657.41,49.24 657.84,47.94 658.27,46.65 658.69,45.35 659.11,44.06 659.52,42.76 659.92,41.47 660.32,40.17 660.71,38.88 661.10,37.58 661.48,36.29 661.85,34.99 662.22,33.70 662.59,32.40 662.94,31.11 663.30,29.81 663.64,28.52 663.98,27.22 664.32,25.93 664.65,24.63 664.97,23.34 665.30,22.04 665.61,20.75 665.92,19.45 666.23,18.16 666.53,16.86 666.82,15.57 667.11,14.27 667.40,12.98 667.68,11.68 667.95,10.39" stroke="#800080"/>
<polyline points="544.80,321.21 545.12,319.92 545.44,318.62 545.76,317.33 546.09,316.03 546.42,314.74 546.74,313.44 547.08,312.15 547.41,310.85 547.74,309.56 548.08,308.26 548.42,306.97 548.76,305.67 549.10,304.38 549.44,303.08 549.78,301.79 550.13,300.49 550.48,299.20 550.83,297.90 551.18,296.61 551.53,295.31 551.88,294.02 552.24,292.72 552.60,291.43 552.96,290.13 553.32,288.84 553.68,287.54 554.04,286.25 554.41,284.95 554.77,283.66 555.14,282.36 555.51,281.06 555.88,279.77 556.26,278.47 556.63,277.18 557.01,275.88 557.39,274.59 557.77,273.29 558.15,272.00 558.53,270.70 558.91,269.41 559.30,268.11 559.68,266.82 560.07,265.52 560.46,264.23 560.85,262.93 561.24,261.64 561.64,260.34 562.03,259.05 562.43,257.75 562.83,256.46 563.23,255.16 563.63,253.87 564.03,252.57 564.43,251.28 564.84,249.98 565.24,248.69 565.65,247.39 566.06,246.10 566.47,244.80 566.88,243.51 567.29,242.21 567.70,240.92 568.11,239.62 568.53,238.33 568.95,237.03 569.36,235.74 569.78,234.44 570.20,233.15 570.62,231.85 571.04,230.56 571.47,229.26 571.89,227.97 572.32,226.67 572.74,225.38 573.17,224.08 573.60,222.78 574.02,221.49 574.45,220.19 574.88,218.90 575.32,217.60 575.75,216.31 576.18,215.01 576.61,213.72 577.05,212.42 577.48,211.13 577.92,209.83 578.36,208.54 578.80,207.24 579.23,205.95 579.67,204.65 580.11,203.36 580.55,202.06 580.99,200.77 581.43,199.47 581.88,198.18 582.32,196.88 582.76,195.59 583.21,194.29 583.65,193.00 584.09,191.70 584.54,190.41 584.99,189.11 585.43,187.82 585.88,186.52 586.32,185.23 586.77,183.93 587.22,182.64 587.67,181.34 588.11,180.05 588.56,178.75 589.01,177.46 589.46,176.16 589.91,174.87 590.36,173.57 590.80,172.28 591.25,170.98 591.70,169.69 592.15,168.39 592.60,167.10 593.05,165.80 593.50,164.50 593.95,163.21 594.40,161.91 594.85,160.62 595.30,159.32 595.74,158.03 596.19,156.73 596.64,155.44 597.09,154.14 597.54,152.85 597.99,151.55 598.43,150.26 598.88,148.96 599.33,147.67 599.78,146.37 600.22,145.08 600.67,143.78 601.11,142.49 601.56,141.19 602.01,139.90 602.45,138.60 602.89,137.31 603.34,136.01 603.78,134.72 604.22,133.42 604.67,132.13 605.11,130.83 605.55,129.54 605.99,128.24 606.43,126.95 606.87,125.65 607.30,124.36 607.74,123.06 608.18,121.77 608.62,120.47 609.05,119.18 609.49,117.88 609.92,116.59 610.35,115.29 610.78,114.00 611.22,112.70 611.65,111.41 612.08,110.11 612.50,108.82 612.93,107.52 613.36,106.22 613.78,104.93 614.21,103.63 614.63,102.34 615.06,101.04 615.48,99.75 615.90,98.45 616.32,97.16 616.74,95.86 617.15,94.57 617.57,93.27 617.99,91.98 618.40,90.68 618.81,89.39 619.22,88.09 619.63,86.80 620.04,85.50 620.45,84.21 620.86,82.91 621.26,81.62 621.67,80.32 622.07,79.03 622.47,77.73 622.87,76.44 623.27,75.14 623.67,73.85 624.07,72.55 624.46,71.26 624.86,69.96 625.25,68.67 625.64,67.37 626.03,66.08 626.42,64.78 626.80,63.49 627.19,62.19 627.57,60.90 627.95,59.60 628.33,58.31 628.71,57.01 629.09,55.72 629.47,54.42 629.84,53.13 630.22,51.83 630.59,50.54 630.96,49.24 631.33,47.94 631.69,46.65 632.06,45.35 632.42,44.06 632.78,42.76 633.14,41.47 633.50,40.17 633.86,38.88 634.22,37.58 634.57,36.29 634.92,34.99 635.27,33.70 635.62,32.40 635.97,31.11 636.32,29.81 636.66,28.52 637.00,27.22 637.34,25.93 637.68,24.63 638.02,23.34 638.36,22.04 638.69,20.75 639.02,19.45 639.36,18.16 639.68,16.86 640.01,15.57 640.34,14.27 640.66,12.98 640.98,11.68 641.30,10.39" stroke="#0000ff"/>
<polyline points="566.88,321.21 567.08,319.92 567.29,318.62 567.49,317.33 567.70,316.03 567.91,314.74 568.11,313.44 568.32,312.15 568.53,310.85 568.74,309.56 568.95,308.26 569.15,306.97 569.36,305.67 569.57,304.38 569.78,303.08 569.99,301.79 570.20,300.49 570.41,299.20 570.62,297.90 570.83,296.61 571.04,295.31 571.26,294.02 571.47,292.72 571.68,291.43 571.89,290.13 572.10,288.84 572.32,287.54 572.53,286.25 572.74,284.95 572.95,283.66 573.17,282.36 573.38,281.06 573.60,279.77 573.81,278.47 574.02,277.18 574.24,275.88 574.45,274.59 574.67,273.29 574.88,272.00 575.10,270.70 575.32,269.41 575.53,268.11 575.75,266.82 575.96,265.52 576.18,264.23 576.40,262.93 576.61,261.64 576.83,260.34 577.05,259.05 577.27,257.75 577.48,256.46 577.70,255.16 577.92,253.87 578.14,252.57 578.36,251.28 578.58,249.98 578.80,248.69 579.01,247.39 579.23,246.10 579.45,244.80 579.67,243.51 579.89,242.21 580.11,240.92 580.33,239.62 580.55,238.33 580.77,237.03 580.99,235.74 581.21,234.44 581.43,233.15 581.66,231.85 581.88,230.56 582.10,229.26 582.32,227.97 582.54,226.67 582.76,225.38 582.98,224.08 583.21,222.78 583.43,221.49 583.65,220.19 583.87,218.90 584.09,217.60 584.32,216.31 584.54,215.01 584.76,213.72 584.99,212.42 585.21,211.13 585.43,209.83 585.65,208.54 585.88,207.24 586.10,205.95 586.32,204.65 586.55,203.36 586.77,202.06 586.99,200.77 587.22,199.47 587.44,198.18 587.67,196.88 587.89,195.59 588.11,194.29 588.34,193.00 588.56,191.70 588.79,190.41 589.01,189.11 589.23,187.82 589.46,186.52 589.68,185.23 589.91,183.93 590.13,182.64 590.36,181.34 590.58,180.05 590.80,178.75 591.03,177.46 591.25,176.16 591.48,174.87 591.70,173.57 591.93,172.28 592.15,170.98 592.38,169.69 592.60,168.39 592.83,167.10 593.05,165.80 593.27,164.50 593.50,163.21 593.72,161.91 593.95,160.62 594.17,159.32 594.40,158.03 594.62,156.73 594.85,155.44 595.07,154.14 595.30,152.85 595.52,151.55 595.74,150.26 595.97,148.96 596.19,147.67 596.42,146.37 596.64,145.08 596.87,143.78 597.09,142.49 597.31,141.19 597.54,139.90 597.76,138.60 597.99,137.31 598.21,136.01 598.43,134.72 598.66,133.42 598.88,132.13 599.11,130.83 599.33,129.54 599.55,128.24 599.78,126.95 600.00,125.65 600.22,124.36 600.45,123.06 600.67,121.77 600.89,120.47 601.11,119.18 601.34,117.88 601.56,116.59 601.78,115.29 602.01,114.00 602.23,112.70 602.45,111.41 602.67,110.11 602.89,108.82 603.12,107.52 603.34,106.22 603.56,104.93 603.78,103.63 604.00,102.34 604.22,101.04 604.44,99.75 604.67,98.45 604.89,97.16 605.11,95.86 605.33,94.57 605.55,93.27 605.77,91.98 605.99,90.68 606.21,89.39 606.43,88.09 606.65,86.80 606.87,85.50 607.09,84.21 607.30,82.91 607.52,81.62 607.74,80.32 607.96,79.03 608.18,77.73 608.40,76.44 608.62,75.14 608.83,73.85 609.05,72.55 609.27,71.26 609.49,69.96 609.70,68.67 609.92,67.37 610.14,66.08 610.35,64.78 610.57,63.49 610.78,62.19 611.00,60.90 611.22,59.60 611.43,58.31 611.65,57.01 611.86,55.72 612.08,54.42 612.29,53.13 612.50,51.83 612.72,50.54 612.93,49.24 613.15,47.94 613.36,46.65 613.57,45.35 613.78,44.06 614.00,42.76 614.21,41.47 614.42,40.17 614.63,38.88 614.84,37.58 615.06,36.29 615.27,34.99 615.48,33.70 615.69,32.40 615.90,31.11 616.11,29.81 616.32,28.52 616.53,27.22 616.74,25.93 616.95,24.63 617.15,23.34 617.36,22.04 617.57,20.75 617.78,19.45 617.99,18.16 618.19,16.86 618.40,15.57 618.61,14.27 618.81,12.98 619.02,11.68 619.22,10.39" stroke="#ff0000"/>
<polyline points="582.32,321.21 582.41,319.92 582.50,318.62 582.59,317.33 582.67,316.03 582.76,314.74 582.85,313.44 582.94,312.15 583.03,310.85 583.12,309.56 583.21,308.26 583.29,306.97 583.38,305.67 583.47,304.38 583.56,303.08 583.65,301.79 583.74,300.49 583.83,299.20 583.92,297.90 584.01,296.61 584.09,295.31 584.18,294.02 584.27,292.72 584.36,291.43 584.45,290.13 584.54,288.84 584.63,287.54 584.72,286.25 584.81,284.95 584.90,283.66 584.99,282.36 585.07,281.06 585.16,279.77 585.25,278.47 585.34,277.18 585.43,275.88 585.52,274.59 585.61,273.29 585.70,272.00 585.79,270.70 585.88,269.41 585.97,268.11 586.06,266.82 586.15,265.52 586.23,264.23 586.32,262.93 586.41,261.64 586.50,260.34 586.59,259.05 586.68,257.75 586.77,256.46 586.86,255.16 586.95,253.87 587.04,252.57 587.13,251.28 587.22,249.98 587.31,248.69 587.40,247.39 587.49,246.10 587.58,244.80 587.67,243.51 587.75,242.21 587.84,240.92 587.93,239.62 588.02,238.33 588.11,237.03 588.20,235.74 588.29,234.44 588.38,233.15 588.47,231.85 588.56,230.56 588.65,229.26 588.74,227.97 588.83,226.67 588.92,225.38 589.01,224.08 589.10,222.78 589.19,221.49 589.28,220.19 589.37,218.90 589.46,217.60 589.55,216.31 589.64,215.01 589.73,213.72 589.82,212.42 589.91,211.13 590.00,209.83 590.09,208.54 590.18,207.24 590.27,205.95 590.36,204.65 590.45,203.36 590.53,202.06 590.62,200.77 590.71,199.47 590.80,198.18 590.89,196.88 590.98,195.59 591.07,194.29 591.16,193.00 591.25,191.70 591.34,190.41 591.43,189.11 591.52,187.82 591.61,186.52 591.70,185.23 591.79,183.93 591.88,182.64 591.97,181.34 592.06,180.05 592.15,178.75 592.24,177.46 592.33,176.16 592.42,174.87 592.51,173.57 592.60,172.28 592.69,170.98 592.78,169.69 592.87,168.39 592.96,167.10 593.05,165.80 593.14,164.50 593.23,163.21 593.32,161.91 593.41,160.62 593.50,159.32 593.59,158.03 593.68,156.73 593.77,155.44 593.86,154.14 593.95,152.85 594.04,151.55 594.13,150.26 594.22,148.96 594.31,147.67 594.40,146.37 594.49,145.08 594.58,143.78 594.67,142.49 594.76,141.19 594.85,139.90 594.94,138.60 595.03,137.31 595.12,136.01 595.21,134.72 595.30,133.42 595.39,132.13 595.48,130.83 595.57,129.54 595.65,128.24 595.74,126.95 595.83,125.65 595.92,124.36 596.01,123.06 596.10,121.77 596.19,120.47 596.28,119.18 596.37,117.88 596.46,116.59 596.55,115.29 596.64,114.00 596.73,112.70 596.82,111.41 596.91,110.11 597.00,108.82 597.09,107.52 597.18,106.22 597.27,104.93 597.36,103.63 597.45,102.34 597.54,101.04 597.63,99.75 597.72,98.45 597.81,97.16 597.90,95.86 597.99,94.57 598.08,93.27 598.17,91.98 598.26,90.68 598.35,89.39 598.43,88.09 598.52,86.80 598.61,85.50 598.70,84.21 598.79,82.91 598.88,81.62 598.97,80.32 599.06,79.03 599.15,77.73 599.24,76.44 599.33,75.14 599.42,73.85 599.51,72.55 599.60,71.26 599.69,69.96 599.78,68.67 599.87,67.37 599.95,66.08 600.04,64.78 600.13,63.49 600.22,62.19 600.31,60.90 600.40,59.60 600.49,58.31 600.58,57.01 600.67,55.72 600.76,54.42 600.85,53.13 600.94,51.83 601.03,50.54 601.11,49.24 601.20,47.94 601.29,46.65 601.38,45.35 601.47,44.06 601.56,42.76 601.65,41.47 601.74,40.17 601.83,38.88 601.92,37.58 602.01,36.29 602.09,34.99 602.18,33.70 602.27,32.40 602.36,31.11 602.45,29.81 602.54,28.52 602.63,27.22 602.72,25.93 602.81,24.63 602.89,23.34 602.98,22.04 603.07,20.75 603.16,19.45 603.25,18.16 603.34,16.86 603.43,15.57 603.51,14.27 603.60,12.98 603.69,11.68 603.78,10.39" stroke="#ff8000"/>
</g>
<line x1="503.20" x2="682.90" y1="165.80" y2="165.80" stroke="#333" stroke-width="0.9"/>
<rect x="503.20" y="20.10" width="179.70" height="291.40" fill="none" stroke="#000" stroke-width="3.85"/>
<path d="M593.05 311.50v-8.80 M593.05 20.10v8.80 M503.20 295.31h5.50 M682.90 295.31h-5.50 M503.20 230.56h5.50 M682.90 230.56h-5.50 M503.20 165.80h5.50 M682.90 165.80h-5.50 M503.20 101.04h5.50 M682.90 101.04h-5.50 M503.20 36.29h5.50 M682.90 36.29h-5.50 " stroke="#000" stroke-width="3.85" fill="none"/>
<circle cx="619.6" cy="211.30" r="3.35" fill="#ff8000"/>
<circle cx="619.6" cy="230.75" r="3.35" fill="#ff0000"/>
<circle cx="619.6" cy="250.20" r="3.35" fill="#0000ff"/>
<circle cx="619.6" cy="269.65" r="3.35" fill="#800080"/>
<circle cx="619.6" cy="289.10" r="3.35" fill="#000000"/>
<g font-family="'Liberation Serif', serif" fill="#000">
<text transform="translate(59.60,45.50) scale(1.075,1)" font-size="19.00" text-anchor="end"  >20</text>
<text transform="translate(59.60,175.10) scale(1.075,1)" font-size="19.00" text-anchor="end"  >0</text>
<text transform="translate(59.60,304.70) scale(1.075,1)" font-size="19.00" text-anchor="end"  >−20</text>
<text transform="translate(65.55,339.40) scale(1.075,1)" font-size="19.00" text-anchor="middle"  >0</text>
<text transform="translate(132.86,339.40) scale(1.075,1)" font-size="19.00" text-anchor="middle"  >2</text>
<text transform="translate(200.17,339.40) scale(1.075,1)" font-size="19.00" text-anchor="middle"  >4</text>
<text transform="translate(267.48,339.40) scale(1.075,1)" font-size="19.00" text-anchor="middle"  >6</text>
<text transform="translate(334.79,339.40) scale(1.075,1)" font-size="19.00" text-anchor="middle"  >8</text>
<text transform="translate(402.10,339.40) scale(1.075,1)" font-size="19.00" text-anchor="middle"  >10</text>
<text transform="translate(496.90,44.49) scale(1.075,1)" font-size="19.00" text-anchor="end"  >20</text>
<text transform="translate(496.90,174.00) scale(1.075,1)" font-size="19.00" text-anchor="end"  >0</text>
<text transform="translate(496.90,303.51) scale(1.075,1)" font-size="19.00" text-anchor="end"  >−20</text>
<text transform="translate(503.20,338.00) scale(1.075,1)" font-size="19.00" text-anchor="middle"  >0</text>
<text transform="translate(593.05,338.00) scale(1.075,1)" font-size="19.00" text-anchor="middle"  >0.5</text>
<text transform="translate(682.90,338.00) scale(1.075,1)" font-size="19.00" text-anchor="middle"  >1</text>
<text transform="translate(-1.07,17.58) scale(1.7468,1.3750)" font-size="20"  stroke="#000" stroke-width="0.577" stroke-linejoin="round">a</text>
<text transform="translate(442.75,19.47) scale(1.6541,1.3972)" font-size="20"  stroke="#000" stroke-width="0.590" stroke-linejoin="round">b</text>
<text transform="translate(78.80,61.10) scale(1.3284,1.0000)" font-size="20" font-weight="bold">s</text>
<path d="M81.60 49.40L84.00 46.60L86.40 49.40" fill="none" stroke="#000" stroke-width="1.25" stroke-linejoin="miter"/>
<path d="M95.90 53.70H110.90 M95.90 57.40H110.90" fill="none" stroke="#000" stroke-width="1.00"/>
<text transform="translate(118.04,61.00) scale(1.2792,1.0109)" font-size="20" font-weight="bold">x</text>
<path d="M121.60 49.40L124.60 46.60L127.60 49.40" fill="none" stroke="#000" stroke-width="1.25" stroke-linejoin="miter"/>
<text transform="translate(78.80,288.50) scale(1.3284,0.9896)" font-size="20" font-weight="bold">s</text>
<path d="M81.60 276.80L84.00 274.00L86.40 276.80" fill="none" stroke="#000" stroke-width="1.25" stroke-linejoin="miter"/>
<path d="M95.90 281.30H110.90 M95.90 285.10H110.90" fill="none" stroke="#000" stroke-width="1.00"/>
<text transform="translate(117.84,288.81) scale(1.2813,1.0444)" font-size="20" font-weight="bold">y</text>
<path d="M121.60 276.80L124.60 274.00L127.60 276.80" fill="none" stroke="#000" stroke-width="1.25" stroke-linejoin="miter"/>
<text transform="translate(407.59,313.59) scale(1.2593,1.2270)" font-size="20" >×</text>
<text transform="translate(422.84,310.99) scale(0.8914,1.0519)" font-size="20" >10</text>
<text transform="translate(441.94,304.25) scale(0.8000,0.7732)" font-size="20" >3</text>
<text transform="translate(214.09,367.44) scale(1.1667,1.1407)" font-size="20" font-style="italic">D</text>
<text transform="translate(230.49,370.70) scale(1.0328,0.6064)" font-size="20" >r</text>
<text transform="translate(240.72,367.56) scale(1.4257,1.2087)" font-size="20" font-style="italic">t</text>
<text transform="translate(559.33,367.68) scale(0.9497,1.1127)" font-size="20" font-style="italic">δ</text>
<text transform="translate(567.95,367.70) scale(1.2727,1.0208)" font-size="20" font-style="italic">υ</text>
<path d="M585.80 351.20A14.27 14.27 0 0 0 585.80 373.40L586.40 373.40A17.57 17.57 0 0 1 586.40 351.20Z"/>
<text transform="translate(586.71,367.40) scale(1.2532,1.0265)" font-size="20" font-weight="bold">r</text>
<path d="M598.70 351.20A14.11 14.11 0 0 1 598.70 373.40L598.10 373.40A17.24 17.24 0 0 0 598.10 351.20Z"/>
<path d="M606.90 373.40L615.30 351.20" stroke="#000" stroke-width="1.15" fill="none"/>
<text transform="translate(616.18,367.70) scale(1.2468,1.0208)" font-size="20" font-style="italic">υ</text>
<text transform="translate(618.21,196.00) scale(1.0497,0.8478)" font-size="20" font-style="italic">κ</text>
<text transform="translate(628.06,195.94) scale(1.0390,0.8229)" font-size="20" font-style="italic">υ</text>
<path d="M638.10 199.30L644.70 183.70" stroke="#000" stroke-width="1.15" fill="none"/>
<text transform="translate(646.13,195.96) scale(0.9306,0.8517)" font-size="20" font-style="italic">D</text>
<text transform="translate(659.15,197.90) scale(0.8689,0.4787)" font-size="20" >r</text>
<g transform="translate(27.3,245.1) rotate(-90)">
<path d="M5.90 -17L0.00 -6.05L5.90 4.9" fill="none" stroke="#000" stroke-width="1.10"/>
<text transform="translate(6.70,0.00) scale(1.0886,1.0476)" font-size="20" font-weight="bold">r</text>
<path d="M24.20 -17.00A12.38 12.38 0 0 0 24.20 4.90L24.80 4.90A14.04 14.04 0 0 1 24.80 -17.00Z"/>
<text transform="translate(24.30,-0.05) scale(1.1089,1.2348)" font-size="20" font-style="italic">t</text>
<path d="M32.20 -17.00A12.38 12.38 0 0 1 32.20 4.90L31.60 4.90A14.04 14.04 0 0 0 31.60 -17.00Z"/>
<circle cx="48.6" cy="-5.9" r="1.15"/>
<text transform="translate(56.53,-0.01) scale(1.2836,1.0521)" font-size="20" font-weight="bold">s</text>
<path d="M58.90 -12.20L61.60 -15.40L64.30 -12.20" fill="none" stroke="#000" stroke-width="1.20" stroke-linejoin="miter"/>
<path d="M67.30 -17L73.20 -6.05L67.30 4.9" fill="none" stroke="#000" stroke-width="1.10"/>
<path d="M75.40 4.90L83.40 -17.00" stroke="#000" stroke-width="1.15" fill="none"/>
<path d="M93.10 -17.00A11.99 11.99 0 0 0 93.10 4.90L93.70 4.90A13.30 13.30 0 0 1 93.70 -17.00Z"/>
<text transform="translate(93.40,-0.00) scale(1.3377,1.0208)" font-size="20" font-style="italic">υ</text>
<path d="M106.80 4.90L114.90 -17.00" stroke="#000" stroke-width="1.15" fill="none"/>
<text transform="translate(117.77,-0.06) scale(1.0764,1.1255)" font-size="20" font-style="italic">D</text>
<text transform="translate(134.10,2.90) scale(1.0000,0.6596)" font-size="20" >r</text>
<path d="M142.30 -17.00A12.30 12.30 0 0 1 142.30 4.90L141.70 4.90A13.88 13.88 0 0 0 141.70 -17.00Z"/>
</g>
<g transform="translate(464.9,223.4) rotate(-90)">
<text transform="translate(-0.59,0.00) scale(1.0759,1.0370)" font-size="20" font-weight="bold">r</text>
<circle cx="15.7" cy="-6.0" r="1.15"/>
<text transform="translate(23.45,-0.01) scale(1.2537,1.0417)" font-size="20" font-weight="bold">s</text>
<path d="M25.70 -12.20L28.40 -15.40L31.10 -12.20" fill="none" stroke="#000" stroke-width="1.20" stroke-linejoin="miter"/>
<path d="M34.60 4.90L42.90 -17.00" stroke="#000" stroke-width="1.15" fill="none"/>
<path d="M51.80 -17.00A12.14 12.14 0 0 0 51.80 4.90L52.40 4.90A13.58 13.58 0 0 1 52.40 -17.00Z"/>
<text transform="translate(52.19,-0.00) scale(1.2338,1.0208)" font-size="20" font-style="italic">υ</text>
<path d="M65.90 4.90L73.90 -17.00" stroke="#000" stroke-width="1.15" fill="none"/>
<text transform="translate(76.77,-0.06) scale(1.0764,1.1103)" font-size="20" font-style="italic">D</text>
<text transform="translate(93.11,2.90) scale(0.9672,0.6596)" font-size="20" >r</text>
<path d="M101.20 -17.00A12.57 12.57 0 0 1 101.20 4.90L100.60 4.90A14.40 14.40 0 0 0 100.60 -17.00Z"/>
</g>
<text transform="translate(630.10,216.80) scale(1.075,1)" font-size="15.80" text-anchor="start"  >0.01</text>
<text transform="translate(630.10,236.25) scale(1.075,1)" font-size="15.80" text-anchor="start"  >0.025</text>
<text transform="translate(630.10,255.70) scale(1.075,1)" font-size="15.80" text-anchor="start"  >0.05</text>
<text transform="translate(630.10,275.15) scale(1.075,1)" font-size="15.80" text-anchor="start"  >0.1</text>
<text transform="translate(630.10,294.60) scale(1.075,1)" font-size="15.80" text-anchor="start"  >1</text>
</g>
</svg>
</body></html>
